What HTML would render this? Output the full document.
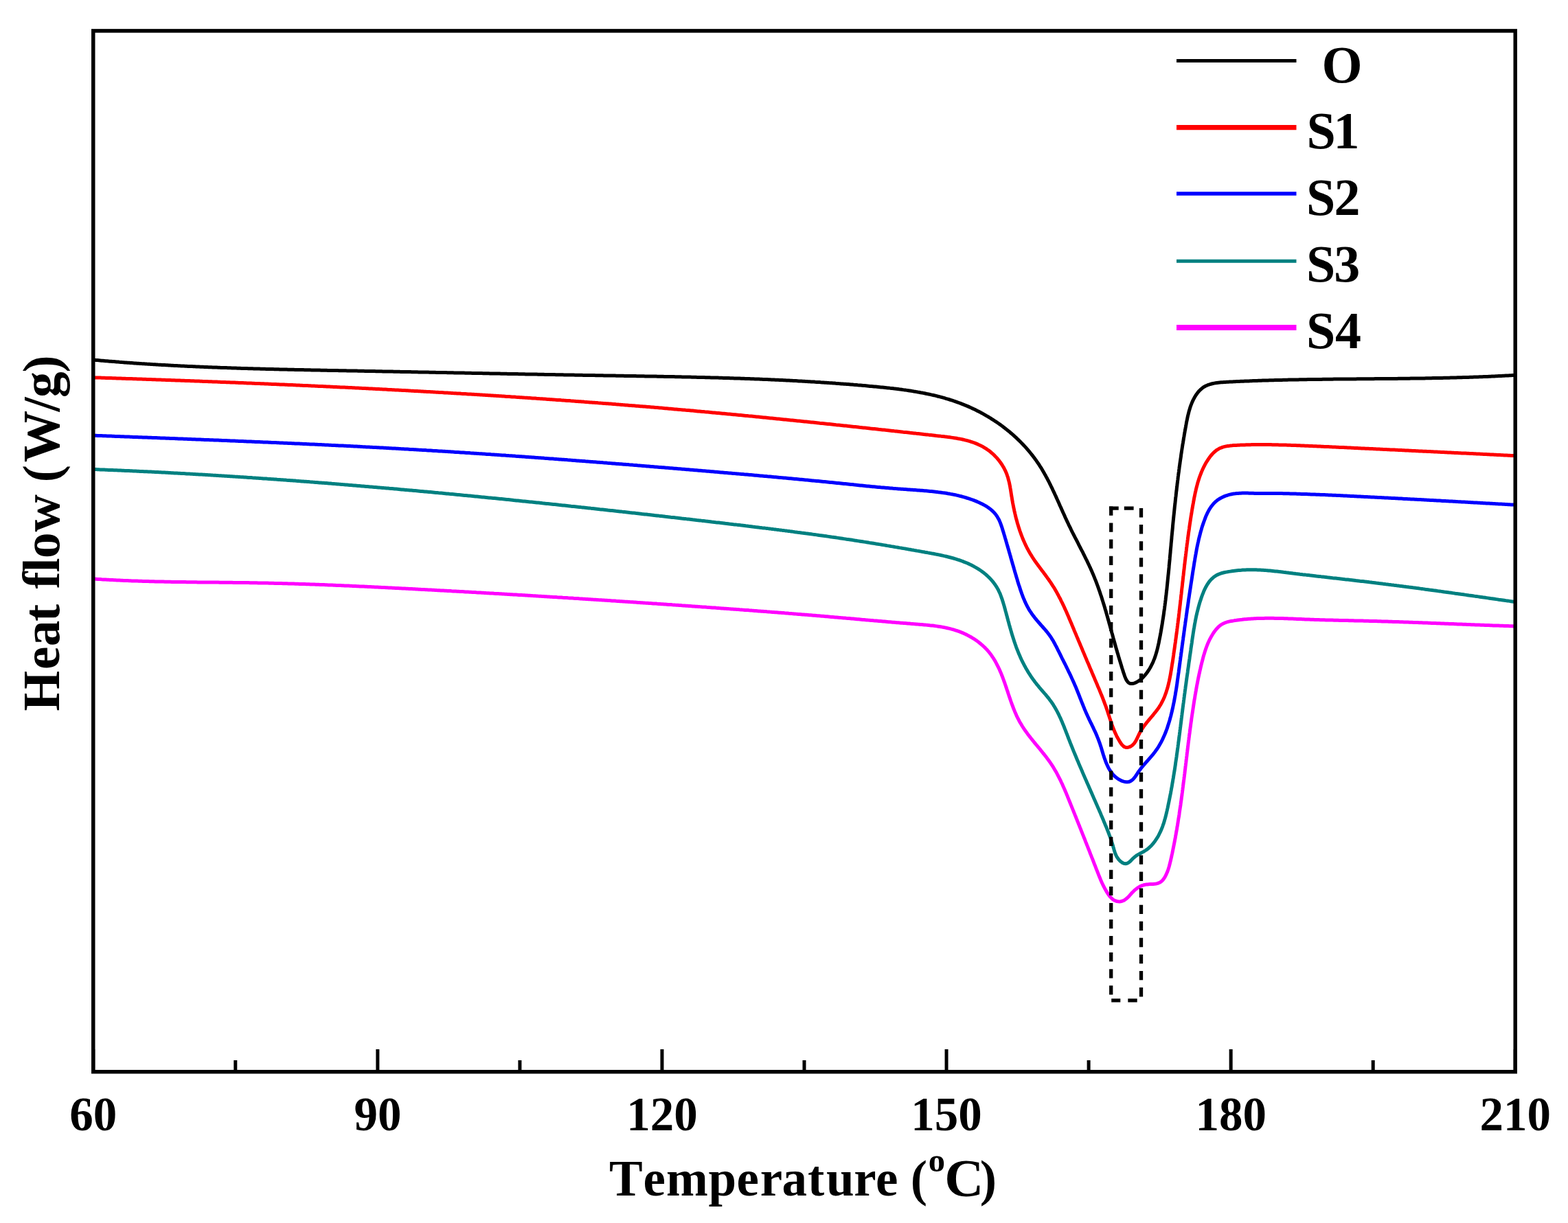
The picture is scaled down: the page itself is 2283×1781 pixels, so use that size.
<!DOCTYPE html>
<html><head><meta charset="utf-8"><title>Heat flow vs Temperature</title><style>html,body{margin:0;padding:0;background:#fff;overflow:hidden;width:2283px;height:1781px;}svg{display:block;} text{font-family:"Liberation Serif","Times New Roman",serif;font-weight:bold;font-kerning:none;font-feature-settings:"kern" 0;}</style></head><body>
<svg width="2283" height="1781" viewBox="0 0 2283 1781">
<rect x="0" y="0" width="2283" height="1781" fill="#ffffff"/>
<path d="M136.0,524.1 L138.0,524.3 L140.0,524.5 L142.0,524.6 L144.0,524.8 L146.0,525.0 L147.9,525.2 L149.9,525.3 L151.9,525.5 L153.9,525.7 L155.9,525.8 L157.9,526.0 L159.9,526.2 L161.9,526.3 L163.9,526.5 L165.9,526.6 L167.9,526.8 L169.9,527.0 L171.9,527.1 L173.9,527.3 L175.9,527.4 L177.9,527.6 L179.9,527.7 L181.9,527.9 L183.9,528.0 L185.9,528.2 L187.9,528.3 L189.9,528.5 L191.9,528.6 L193.8,528.7 L195.8,528.9 L197.8,529.0 L199.8,529.2 L201.8,529.3 L203.8,529.4 L205.8,529.6 L207.8,529.7 L209.8,529.8 L211.8,529.9 L213.8,530.1 L215.8,530.2 L217.8,530.3 L219.8,530.4 L221.8,530.6 L223.8,530.7 L225.8,530.8 L227.8,530.9 L229.8,531.1 L231.8,531.2 L233.8,531.3 L235.8,531.4 L237.8,531.5 L239.8,531.6 L241.8,531.7 L243.8,531.8 L245.8,532.0 L247.7,532.1 L249.7,532.2 L251.7,532.3 L253.7,532.4 L255.7,532.5 L257.7,532.6 L259.7,532.7 L261.7,532.8 L263.7,532.9 L265.7,533.0 L267.7,533.1 L269.7,533.2 L271.7,533.3 L273.7,533.4 L275.7,533.5 L277.7,533.6 L279.7,533.6 L281.7,533.7 L283.7,533.8 L285.7,533.9 L287.7,534.0 L289.7,534.1 L291.7,534.2 L293.7,534.3 L295.7,534.3 L297.7,534.4 L299.7,534.5 L301.7,534.6 L303.7,534.7 L305.7,534.7 L307.7,534.8 L309.7,534.9 L311.6,535.0 L313.6,535.1 L315.6,535.1 L317.6,535.2 L319.6,535.3 L321.6,535.4 L323.6,535.4 L325.6,535.5 L327.6,535.6 L329.6,535.6 L331.6,535.7 L333.6,535.8 L335.6,535.8 L337.6,535.9 L339.6,536.0 L341.6,536.0 L343.6,536.1 L345.6,536.2 L347.6,536.2 L349.6,536.3 L351.6,536.4 L353.6,536.4 L355.6,536.5 L357.6,536.5 L359.6,536.6 L361.6,536.7 L363.6,536.7 L365.6,536.8 L367.6,536.8 L369.6,536.9 L371.6,537.0 L373.6,537.0 L375.6,537.1 L377.6,537.1 L379.6,537.2 L381.6,537.2 L383.6,537.3 L385.6,537.3 L387.6,537.4 L389.6,537.4 L391.6,537.5 L393.6,537.5 L395.6,537.6 L397.5,537.6 L399.5,537.7 L401.5,537.7 L403.5,537.8 L405.5,537.8 L407.5,537.9 L409.5,537.9 L411.5,538.0 L413.5,538.0 L415.5,538.1 L417.5,538.1 L419.5,538.2 L421.5,538.2 L423.5,538.2 L425.5,538.3 L427.5,538.3 L429.5,538.4 L431.5,538.4 L433.5,538.5 L435.5,538.5 L437.5,538.6 L439.5,538.6 L441.5,538.6 L443.5,538.7 L445.5,538.7 L447.5,538.8 L449.5,538.8 L451.5,538.8 L453.5,538.9 L455.5,538.9 L457.5,539.0 L459.5,539.0 L461.5,539.0 L463.5,539.1 L465.5,539.1 L467.5,539.2 L469.5,539.2 L471.5,539.2 L473.5,539.3 L475.5,539.3 L477.5,539.4 L479.5,539.4 L481.5,539.4 L483.5,539.5 L485.5,539.5 L487.5,539.5 L489.5,539.6 L491.5,539.6 L493.5,539.7 L495.5,539.7 L497.5,539.7 L499.5,539.8 L501.5,539.8 L503.5,539.8 L505.5,539.9 L507.5,539.9 L509.5,540.0 L511.5,540.0 L513.5,540.0 L515.5,540.1 L517.5,540.1 L519.5,540.1 L521.5,540.2 L523.5,540.2 L525.5,540.3 L527.5,540.3 L529.5,540.3 L531.5,540.4 L533.5,540.4 L535.5,540.5 L537.5,540.5 L539.5,540.5 L541.5,540.6 L543.5,540.6 L545.5,540.6 L547.5,540.7 L549.5,540.7 L551.5,540.8 L553.5,540.8 L555.5,540.8 L557.5,540.9 L559.5,540.9 L561.5,541.0 L563.5,541.0 L565.5,541.0 L567.5,541.1 L569.5,541.1 L571.5,541.1 L573.5,541.2 L575.5,541.2 L577.5,541.3 L579.5,541.3 L581.5,541.3 L583.5,541.4 L585.5,541.4 L587.5,541.5 L589.5,541.5 L591.5,541.5 L593.5,541.6 L595.5,541.6 L597.5,541.6 L599.5,541.7 L601.5,541.7 L603.5,541.8 L605.5,541.8 L607.5,541.8 L609.5,541.9 L611.5,541.9 L613.5,542.0 L615.5,542.0 L617.5,542.0 L619.5,542.1 L621.5,542.1 L623.5,542.1 L625.5,542.2 L627.5,542.2 L629.5,542.3 L631.5,542.3 L633.5,542.3 L635.5,542.4 L637.5,542.4 L639.5,542.5 L641.5,542.5 L643.5,542.5 L645.5,542.6 L647.5,542.6 L649.5,542.6 L651.5,542.7 L653.5,542.7 L655.5,542.8 L657.5,542.8 L659.5,542.8 L661.5,542.9 L663.5,542.9 L665.5,543.0 L667.5,543.0 L669.5,543.0 L671.5,543.1 L673.5,543.1 L675.5,543.1 L677.5,543.2 L679.5,543.2 L681.5,543.3 L683.5,543.3 L685.5,543.3 L687.5,543.4 L689.5,543.4 L691.5,543.5 L693.5,543.5 L695.5,543.5 L697.5,543.6 L699.5,543.6 L701.5,543.6 L703.5,543.7 L705.5,543.7 L707.5,543.8 L709.5,543.8 L711.5,543.8 L713.5,543.9 L715.5,543.9 L717.5,544.0 L719.5,544.0 L721.5,544.0 L723.4,544.1 L725.4,544.1 L727.4,544.1 L729.4,544.2 L731.4,544.2 L733.4,544.3 L735.4,544.3 L737.4,544.3 L739.4,544.4 L741.4,544.4 L743.4,544.4 L745.4,544.5 L747.4,544.5 L749.4,544.6 L751.4,544.6 L753.4,544.6 L755.4,544.7 L757.4,544.7 L759.4,544.7 L761.4,544.8 L763.4,544.8 L765.4,544.9 L767.4,544.9 L769.4,544.9 L771.4,545.0 L773.4,545.0 L775.4,545.0 L777.4,545.1 L779.4,545.1 L781.4,545.1 L783.4,545.2 L785.4,545.2 L787.4,545.3 L789.4,545.3 L791.4,545.3 L793.4,545.4 L795.4,545.4 L797.4,545.4 L799.4,545.5 L801.4,545.5 L803.4,545.5 L805.4,545.6 L807.4,545.6 L809.4,545.7 L811.4,545.7 L813.4,545.7 L815.4,545.8 L817.4,545.8 L819.4,545.8 L821.4,545.9 L823.4,545.9 L825.4,545.9 L827.4,546.0 L829.4,546.0 L831.4,546.0 L833.4,546.1 L835.4,546.1 L837.4,546.2 L839.4,546.2 L841.4,546.2 L843.4,546.3 L845.4,546.3 L847.4,546.3 L849.4,546.4 L851.4,546.4 L853.4,546.4 L855.4,546.5 L857.4,546.5 L859.4,546.5 L861.4,546.6 L863.4,546.6 L865.4,546.6 L867.4,546.7 L869.4,546.7 L871.4,546.7 L873.4,546.8 L875.4,546.8 L877.4,546.8 L879.4,546.9 L881.4,546.9 L883.4,546.9 L885.4,547.0 L887.4,547.0 L889.4,547.0 L891.4,547.1 L893.4,547.1 L895.4,547.1 L897.4,547.2 L899.4,547.2 L901.4,547.2 L903.4,547.3 L905.4,547.3 L907.4,547.3 L909.4,547.4 L911.4,547.4 L913.4,547.4 L915.4,547.5 L917.4,547.5 L919.4,547.5 L921.4,547.6 L923.4,547.6 L925.3,547.6 L927.3,547.7 L929.3,547.7 L931.3,547.7 L933.3,547.8 L935.3,547.8 L937.3,547.8 L939.3,547.9 L941.3,547.9 L943.3,547.9 L945.3,548.0 L947.3,548.0 L949.3,548.0 L951.3,548.1 L953.3,548.1 L955.3,548.1 L957.3,548.2 L959.3,548.2 L961.3,548.3 L963.3,548.3 L965.3,548.3 L967.3,548.4 L969.3,548.4 L971.3,548.4 L973.3,548.5 L975.3,548.5 L977.3,548.6 L979.3,548.6 L981.3,548.6 L983.3,548.7 L985.3,548.7 L987.3,548.8 L989.3,548.8 L991.3,548.8 L993.3,548.9 L995.3,548.9 L997.3,549.0 L999.3,549.0 L1001.3,549.1 L1003.3,549.1 L1005.2,549.1 L1007.2,549.2 L1009.2,549.2 L1011.2,549.3 L1013.2,549.3 L1015.2,549.4 L1017.2,549.4 L1019.2,549.5 L1021.2,549.5 L1023.2,549.6 L1025.2,549.6 L1027.2,549.7 L1029.2,549.7 L1031.2,549.8 L1033.2,549.8 L1035.2,549.9 L1037.2,549.9 L1039.2,550.0 L1041.2,550.0 L1043.2,550.1 L1045.2,550.1 L1047.2,550.2 L1049.2,550.3 L1051.2,550.3 L1053.2,550.4 L1055.2,550.4 L1057.2,550.5 L1059.2,550.5 L1061.2,550.6 L1063.2,550.7 L1065.2,550.7 L1067.2,550.8 L1069.2,550.9 L1071.2,550.9 L1073.2,551.0 L1075.1,551.1 L1077.1,551.1 L1079.1,551.2 L1081.1,551.3 L1083.1,551.3 L1085.1,551.4 L1087.1,551.5 L1089.1,551.5 L1091.1,551.6 L1093.1,551.7 L1095.1,551.8 L1097.1,551.8 L1099.1,551.9 L1101.1,552.0 L1103.1,552.1 L1105.1,552.1 L1107.1,552.2 L1109.1,552.3 L1111.1,552.4 L1113.1,552.5 L1115.1,552.5 L1117.1,552.6 L1119.1,552.7 L1121.1,552.8 L1123.1,552.9 L1125.1,553.0 L1127.1,553.1 L1129.1,553.2 L1131.1,553.3 L1133.1,553.3 L1135.1,553.4 L1137.1,553.5 L1139.1,553.6 L1141.1,553.7 L1143.1,553.8 L1145.1,553.9 L1147.0,554.0 L1149.0,554.1 L1151.0,554.2 L1153.0,554.3 L1155.0,554.4 L1157.0,554.5 L1159.0,554.6 L1161.0,554.7 L1163.0,554.9 L1165.0,555.0 L1167.0,555.1 L1169.0,555.2 L1171.0,555.3 L1173.0,555.4 L1175.0,555.5 L1177.0,555.7 L1179.0,555.8 L1181.0,555.9 L1183.0,556.0 L1185.0,556.1 L1187.0,556.3 L1189.0,556.4 L1191.0,556.5 L1193.0,556.6 L1195.0,556.8 L1197.0,556.9 L1199.0,557.0 L1201.0,557.2 L1203.0,557.3 L1205.0,557.4 L1207.0,557.6 L1209.0,557.7 L1211.0,557.8 L1213.0,558.0 L1215.0,558.1 L1217.0,558.3 L1219.0,558.4 L1221.0,558.6 L1223.0,558.7 L1225.0,558.9 L1227.0,559.0 L1229.0,559.2 L1231.0,559.3 L1233.0,559.5 L1235.0,559.6 L1237.0,559.8 L1239.0,560.0 L1241.0,560.1 L1243.0,560.3 L1244.9,560.4 L1246.9,560.6 L1248.9,560.8 L1250.9,560.9 L1252.9,561.1 L1254.9,561.3 L1256.9,561.5 L1258.9,561.6 L1260.9,561.8 L1262.9,562.0 L1264.9,562.2 L1266.9,562.4 L1268.9,562.5 L1270.9,562.7 L1272.9,562.9 L1274.9,563.1 L1276.9,563.3 L1278.9,563.5 L1280.9,563.7 L1282.9,563.9 L1284.9,564.1 L1286.9,564.3 L1288.9,564.5 L1290.9,564.7 L1292.9,564.9 L1294.9,565.1 L1296.9,565.4 L1298.9,565.6 L1300.9,565.8 L1302.9,566.1 L1304.9,566.3 L1306.9,566.5 L1308.8,566.8 L1310.8,567.1 L1312.8,567.3 L1314.8,567.6 L1316.8,567.9 L1318.8,568.1 L1320.7,568.4 L1322.7,568.7 L1324.7,569.0 L1326.7,569.3 L1328.6,569.6 L1330.6,570.0 L1332.6,570.3 L1334.5,570.6 L1336.5,571.0 L1338.5,571.3 L1340.4,571.7 L1342.4,572.0 L1344.3,572.4 L1346.3,572.8 L1348.2,573.2 L1350.2,573.6 L1352.1,574.0 L1354.1,574.4 L1356.0,574.9 L1357.9,575.3 L1359.9,575.7 L1361.8,576.2 L1363.7,576.7 L1365.7,577.2 L1367.6,577.7 L1369.5,578.2 L1371.4,578.7 L1373.3,579.2 L1375.2,579.7 L1377.1,580.3 L1379.0,580.8 L1380.9,581.4 L1382.8,582.0 L1384.7,582.6 L1386.6,583.2 L1388.5,583.8 L1390.3,584.5 L1392.2,585.1 L1394.1,585.8 L1395.9,586.5 L1397.8,587.2 L1399.6,587.9 L1401.5,588.6 L1403.3,589.3 L1405.2,590.1 L1407.0,590.8 L1408.9,591.6 L1410.7,592.4 L1412.5,593.2 L1414.3,594.0 L1416.1,594.9 L1417.9,595.7 L1419.7,596.6 L1421.5,597.5 L1423.3,598.4 L1425.1,599.3 L1426.9,600.2 L1428.6,601.2 L1430.4,602.1 L1432.2,603.1 L1433.9,604.1 L1435.6,605.1 L1437.4,606.1 L1439.1,607.1 L1440.8,608.2 L1442.5,609.2 L1444.2,610.3 L1445.9,611.4 L1447.6,612.5 L1449.3,613.6 L1451.0,614.7 L1452.6,615.8 L1454.3,617.0 L1455.9,618.1 L1457.5,619.3 L1459.2,620.5 L1460.8,621.7 L1462.4,622.9 L1464.0,624.2 L1465.5,625.4 L1467.1,626.7 L1468.7,627.9 L1470.2,629.2 L1471.7,630.5 L1473.3,631.8 L1474.8,633.1 L1476.3,634.5 L1477.8,635.8 L1479.2,637.2 L1480.7,638.5 L1482.1,639.9 L1483.6,641.3 L1485.0,642.7 L1486.4,644.1 L1487.8,645.6 L1489.2,647.0 L1490.6,648.5 L1491.9,649.9 L1493.3,651.4 L1494.6,652.9 L1495.9,654.4 L1497.2,655.9 L1498.5,657.4 L1499.8,659.0 L1501.0,660.5 L1502.3,662.1 L1503.5,663.6 L1504.7,665.2 L1505.9,666.8 L1507.1,668.4 L1508.3,670.0 L1509.4,671.7 L1510.5,673.3 L1511.7,674.9 L1512.8,676.6 L1513.8,678.3 L1514.9,679.9 L1516.0,681.6 L1517.0,683.3 L1518.0,685.0 L1519.0,686.7 L1520.0,688.4 L1521.0,690.2 L1522.0,691.9 L1522.9,693.7 L1523.9,695.4 L1524.8,697.2 L1525.7,698.9 L1526.7,700.7 L1527.6,702.5 L1528.5,704.3 L1529.4,706.1 L1530.2,707.8 L1531.1,709.6 L1532.0,711.4 L1532.8,713.3 L1533.7,715.1 L1534.5,716.9 L1535.4,718.7 L1536.2,720.5 L1537.1,722.3 L1537.9,724.2 L1538.7,726.0 L1539.5,727.8 L1540.4,729.7 L1541.2,731.5 L1542.0,733.3 L1542.8,735.2 L1543.6,737.0 L1544.5,738.8 L1545.3,740.7 L1546.1,742.5 L1546.9,744.3 L1547.7,746.2 L1548.6,748.0 L1549.4,749.8 L1550.2,751.6 L1551.0,753.5 L1551.9,755.3 L1552.7,757.1 L1553.6,758.9 L1554.4,760.7 L1555.3,762.5 L1556.1,764.3 L1557.0,766.1 L1557.9,767.9 L1558.8,769.7 L1559.6,771.5 L1560.5,773.3 L1561.4,775.1 L1562.3,776.8 L1563.2,778.6 L1564.1,780.4 L1565.0,782.2 L1565.9,783.9 L1566.9,785.7 L1567.8,787.5 L1568.7,789.2 L1569.6,791.0 L1570.5,792.8 L1571.4,794.6 L1572.3,796.3 L1573.2,798.1 L1574.1,799.9 L1575.0,801.6 L1576.0,803.4 L1576.9,805.2 L1577.7,806.9 L1578.6,808.7 L1579.5,810.5 L1580.4,812.3 L1581.3,814.1 L1582.2,815.8 L1583.0,817.6 L1583.9,819.4 L1584.7,821.2 L1585.6,823.0 L1586.4,824.8 L1587.3,826.6 L1588.1,828.4 L1588.9,830.3 L1589.7,832.1 L1590.5,833.9 L1591.3,835.7 L1592.1,837.6 L1592.8,839.4 L1593.6,841.3 L1594.3,843.1 L1595.1,845.0 L1595.8,846.9 L1596.5,848.7 L1597.2,850.6 L1597.9,852.5 L1598.6,854.4 L1599.3,856.3 L1599.9,858.2 L1600.6,860.1 L1601.3,862.0 L1601.9,863.9 L1602.5,865.8 L1603.2,867.7 L1603.8,869.6 L1604.4,871.5 L1605.0,873.4 L1605.6,875.4 L1606.2,877.3 L1606.8,879.2 L1607.4,881.1 L1608.0,883.1 L1608.6,885.0 L1609.1,886.9 L1609.7,888.8 L1610.3,890.8 L1610.8,892.7 L1611.4,894.6 L1611.9,896.5 L1612.5,898.5 L1613.0,900.4 L1613.5,902.3 L1614.1,904.2 L1614.6,906.1 L1615.1,908.1 L1615.7,910.0 L1616.2,911.9 L1616.7,913.8 L1617.3,915.7 L1617.8,917.6 L1618.3,919.5 L1618.8,921.4 L1619.4,923.3 L1619.9,925.2 L1620.4,927.1 L1620.9,929.0 L1621.5,930.9 L1622.0,932.8 L1622.5,934.7 L1623.0,936.6 L1623.6,938.5 L1624.1,940.3 L1624.6,942.3 L1625.2,944.2 L1625.7,946.1 L1626.3,948.0 L1626.8,949.9 L1627.4,951.8 L1628.0,953.8 L1628.5,955.7 L1629.1,957.6 L1629.7,959.6 L1630.3,961.6 L1630.9,963.5 L1631.5,965.5 L1632.1,967.5 L1632.7,969.5 L1633.3,971.5 L1633.9,973.5 L1634.6,975.5 L1635.2,977.6 L1635.9,979.7 L1636.6,981.7 L1637.3,983.8 L1638.0,985.7 L1638.8,987.6 L1639.6,989.4 L1640.5,991.0 L1641.5,992.4 L1642.6,993.7 L1643.9,994.6 L1645.2,995.3 L1646.7,995.6 L1648.3,995.6 L1650.0,995.3 L1651.8,994.8 L1653.5,994.1 L1655.3,993.2 L1657.0,992.2 L1658.7,991.1 L1660.3,989.9 L1661.9,988.6 L1663.4,987.2 L1664.9,985.7 L1666.3,984.1 L1667.7,982.5 L1669.0,980.9 L1670.2,979.2 L1671.4,977.5 L1672.6,975.8 L1673.7,974.0 L1674.7,972.3 L1675.7,970.5 L1676.6,968.7 L1677.5,966.9 L1678.4,965.1 L1679.2,963.2 L1679.9,961.4 L1680.7,959.5 L1681.4,957.7 L1682.0,955.8 L1682.6,953.9 L1683.2,952.0 L1683.8,950.1 L1684.3,948.2 L1684.8,946.3 L1685.3,944.3 L1685.8,942.4 L1686.2,940.5 L1686.6,938.5 L1687.1,936.6 L1687.5,934.6 L1687.8,932.7 L1688.2,930.7 L1688.6,928.8 L1689.0,926.8 L1689.4,924.8 L1689.7,922.9 L1690.1,920.9 L1690.4,919.0 L1690.8,917.0 L1691.1,915.0 L1691.4,913.1 L1691.8,911.1 L1692.1,909.1 L1692.4,907.2 L1692.7,905.2 L1693.0,903.2 L1693.3,901.3 L1693.6,899.3 L1693.9,897.3 L1694.2,895.4 L1694.5,893.4 L1694.7,891.4 L1695.0,889.4 L1695.3,887.5 L1695.6,885.5 L1695.8,883.5 L1696.1,881.5 L1696.3,879.5 L1696.6,877.6 L1696.8,875.6 L1697.1,873.6 L1697.3,871.6 L1697.5,869.6 L1697.8,867.7 L1698.0,865.7 L1698.2,863.7 L1698.4,861.7 L1698.7,859.7 L1698.9,857.7 L1699.1,855.7 L1699.3,853.8 L1699.5,851.8 L1699.7,849.8 L1699.9,847.8 L1700.1,845.8 L1700.3,843.8 L1700.5,841.8 L1700.7,839.8 L1700.9,837.8 L1701.1,835.9 L1701.3,833.9 L1701.5,831.9 L1701.7,829.9 L1701.9,827.9 L1702.1,825.9 L1702.2,823.9 L1702.4,821.9 L1702.6,819.9 L1702.8,817.9 L1703.0,815.9 L1703.2,813.9 L1703.3,811.9 L1703.5,809.9 L1703.7,808.0 L1703.9,806.0 L1704.1,804.0 L1704.2,802.0 L1704.4,800.0 L1704.6,798.0 L1704.8,796.0 L1705.0,794.0 L1705.1,792.0 L1705.3,790.0 L1705.5,788.0 L1705.7,786.0 L1705.9,784.0 L1706.0,782.0 L1706.2,780.0 L1706.4,778.0 L1706.6,776.1 L1706.8,774.1 L1707.0,772.1 L1707.2,770.1 L1707.4,768.1 L1707.5,766.1 L1707.7,764.1 L1707.9,762.1 L1708.1,760.1 L1708.3,758.1 L1708.5,756.1 L1708.7,754.1 L1708.9,752.1 L1709.1,750.1 L1709.3,748.2 L1709.5,746.2 L1709.7,744.2 L1709.9,742.2 L1710.1,740.2 L1710.3,738.2 L1710.5,736.2 L1710.8,734.2 L1711.0,732.2 L1711.2,730.3 L1711.4,728.3 L1711.6,726.3 L1711.8,724.3 L1712.1,722.3 L1712.3,720.3 L1712.5,718.3 L1712.7,716.3 L1713.0,714.4 L1713.2,712.4 L1713.4,710.4 L1713.7,708.4 L1713.9,706.4 L1714.1,704.4 L1714.4,702.5 L1714.6,700.5 L1714.9,698.5 L1715.1,696.5 L1715.3,694.5 L1715.6,692.5 L1715.8,690.6 L1716.1,688.6 L1716.4,686.6 L1716.6,684.6 L1716.9,682.6 L1717.1,680.7 L1717.4,678.7 L1717.7,676.7 L1718.0,674.7 L1718.2,672.8 L1718.5,670.8 L1718.8,668.8 L1719.1,666.8 L1719.4,664.9 L1719.6,662.9 L1719.9,660.9 L1720.2,659.0 L1720.5,657.0 L1720.8,655.0 L1721.1,653.1 L1721.4,651.1 L1721.7,649.1 L1722.0,647.1 L1722.4,645.2 L1722.7,643.2 L1723.0,641.3 L1723.3,639.3 L1723.6,637.3 L1724.0,635.4 L1724.3,633.4 L1724.6,631.4 L1725.0,629.5 L1725.3,627.5 L1725.7,625.6 L1726.0,623.6 L1726.4,621.7 L1726.7,619.7 L1727.1,617.7 L1727.4,615.8 L1727.8,613.8 L1728.2,611.9 L1728.6,609.9 L1729.0,608.0 L1729.4,606.0 L1729.9,604.1 L1730.4,602.1 L1730.9,600.2 L1731.4,598.2 L1732.0,596.3 L1732.6,594.3 L1733.2,592.3 L1733.9,590.4 L1734.7,588.4 L1735.4,586.5 L1736.3,584.6 L1737.1,582.7 L1738.1,580.9 L1739.1,579.0 L1740.1,577.3 L1741.2,575.5 L1742.3,573.9 L1743.5,572.3 L1744.7,570.7 L1746.0,569.3 L1747.4,567.9 L1748.8,566.6 L1750.3,565.3 L1751.8,564.2 L1753.4,563.2 L1755.0,562.3 L1756.7,561.5 L1758.5,560.7 L1760.3,560.1 L1762.1,559.5 L1764.0,559.0 L1765.9,558.5 L1767.9,558.1 L1769.9,557.8 L1771.9,557.5 L1773.9,557.2 L1775.9,557.0 L1777.9,556.8 L1780.0,556.7 L1782.1,556.5 L1784.1,556.4 L1786.2,556.3 L1788.2,556.2 L1790.3,556.1 L1792.3,556.0 L1794.3,555.9 L1796.3,555.8 L1798.4,555.7 L1800.4,555.6 L1802.4,555.5 L1804.4,555.4 L1806.4,555.3 L1808.4,555.3 L1810.4,555.2 L1812.4,555.1 L1814.3,555.0 L1816.3,554.9 L1818.3,554.9 L1820.3,554.8 L1822.3,554.7 L1824.3,554.6 L1826.3,554.6 L1828.3,554.5 L1830.3,554.4 L1832.3,554.3 L1834.3,554.3 L1836.3,554.2 L1838.3,554.1 L1840.3,554.1 L1842.3,554.0 L1844.2,554.0 L1846.2,553.9 L1848.2,553.8 L1850.2,553.8 L1852.2,553.7 L1854.2,553.7 L1856.2,553.6 L1858.2,553.6 L1860.2,553.5 L1862.2,553.5 L1864.2,553.4 L1866.2,553.4 L1868.2,553.3 L1870.2,553.3 L1872.2,553.2 L1874.2,553.2 L1876.2,553.1 L1878.2,553.1 L1880.2,553.1 L1882.2,553.0 L1884.2,553.0 L1886.2,552.9 L1888.2,552.9 L1890.2,552.9 L1892.1,552.8 L1894.1,552.8 L1896.1,552.8 L1898.1,552.7 L1900.1,552.7 L1902.1,552.7 L1904.1,552.6 L1906.1,552.6 L1908.1,552.6 L1910.1,552.5 L1912.1,552.5 L1914.1,552.5 L1916.1,552.5 L1918.1,552.4 L1920.1,552.4 L1922.1,552.4 L1924.1,552.4 L1926.1,552.3 L1928.1,552.3 L1930.1,552.3 L1932.1,552.3 L1934.1,552.2 L1936.1,552.2 L1938.1,552.2 L1940.1,552.2 L1942.1,552.1 L1944.1,552.1 L1946.1,552.1 L1948.1,552.1 L1950.1,552.1 L1952.1,552.1 L1954.1,552.0 L1956.1,552.0 L1958.1,552.0 L1960.1,552.0 L1962.1,552.0 L1964.1,551.9 L1966.1,551.9 L1968.1,551.9 L1970.1,551.9 L1972.1,551.9 L1974.1,551.9 L1976.1,551.8 L1978.1,551.8 L1980.1,551.8 L1982.1,551.8 L1984.1,551.8 L1986.1,551.8 L1988.1,551.8 L1990.1,551.7 L1992.1,551.7 L1994.1,551.7 L1996.1,551.7 L1998.1,551.7 L2000.1,551.7 L2002.1,551.6 L2004.1,551.6 L2006.1,551.6 L2008.1,551.6 L2010.1,551.6 L2012.1,551.6 L2014.1,551.5 L2016.1,551.5 L2018.1,551.5 L2020.1,551.5 L2022.1,551.5 L2024.1,551.5 L2026.1,551.4 L2028.1,551.4 L2030.1,551.4 L2032.1,551.4 L2034.1,551.4 L2036.1,551.3 L2038.1,551.3 L2040.1,551.3 L2042.1,551.3 L2044.1,551.3 L2046.1,551.2 L2048.1,551.2 L2050.1,551.2 L2052.1,551.2 L2054.1,551.1 L2056.1,551.1 L2058.1,551.1 L2060.1,551.1 L2062.1,551.0 L2064.1,551.0 L2066.1,551.0 L2068.1,550.9 L2070.1,550.9 L2072.1,550.9 L2074.1,550.9 L2076.1,550.8 L2078.1,550.8 L2080.1,550.8 L2082.1,550.7 L2084.1,550.7 L2086.1,550.6 L2088.1,550.6 L2090.1,550.6 L2092.1,550.5 L2094.1,550.5 L2096.1,550.5 L2098.1,550.4 L2100.1,550.4 L2102.1,550.3 L2104.1,550.3 L2106.1,550.2 L2108.1,550.2 L2110.1,550.2 L2112.1,550.1 L2114.1,550.1 L2116.1,550.0 L2118.1,550.0 L2120.1,549.9 L2122.1,549.8 L2124.1,549.8 L2126.1,549.7 L2128.1,549.7 L2130.1,549.6 L2132.1,549.6 L2134.1,549.5 L2136.1,549.4 L2138.1,549.4 L2140.1,549.3 L2142.1,549.2 L2144.1,549.2 L2146.1,549.1 L2148.1,549.0 L2150.1,549.0 L2152.1,548.9 L2154.1,548.8 L2156.1,548.8 L2158.1,548.7 L2160.1,548.6 L2162.1,548.5 L2164.0,548.4 L2166.0,548.4 L2168.0,548.3 L2170.0,548.2 L2172.0,548.1 L2174.0,548.0 L2176.0,547.9 L2178.0,547.8 L2180.0,547.7 L2182.0,547.6 L2184.0,547.5 L2186.0,547.4 L2188.0,547.3 L2190.0,547.2 L2192.0,547.1 L2194.0,547.0 L2196.0,546.9 L2198.0,546.8 L2200.0,546.7 L2202.0,546.6 L2204.0,546.5 L2206.0,546.4" fill="none" stroke="#000000" stroke-width="5" stroke-linejoin="round" stroke-linecap="butt"/>
<path d="M136.1,549.8 L138.1,549.9 L140.1,549.9 L142.1,550.0 L144.1,550.1 L146.1,550.1 L148.1,550.2 L150.1,550.3 L152.1,550.3 L154.1,550.4 L156.1,550.5 L158.0,550.5 L160.0,550.6 L162.0,550.6 L164.0,550.7 L166.0,550.8 L168.0,550.8 L170.0,550.9 L172.0,551.0 L174.0,551.0 L176.0,551.1 L178.0,551.2 L180.0,551.2 L182.0,551.3 L184.0,551.4 L186.0,551.4 L188.0,551.5 L190.0,551.6 L192.0,551.6 L194.0,551.7 L196.0,551.8 L198.0,551.8 L200.0,551.9 L202.0,552.0 L204.0,552.1 L206.0,552.1 L208.0,552.2 L210.0,552.3 L212.0,552.3 L213.9,552.4 L215.9,552.5 L217.9,552.5 L219.9,552.6 L221.9,552.7 L223.9,552.7 L225.9,552.8 L227.9,552.9 L229.9,553.0 L231.9,553.0 L233.9,553.1 L235.9,553.2 L237.9,553.2 L239.9,553.3 L241.9,553.4 L243.9,553.5 L245.9,553.5 L247.9,553.6 L249.9,553.7 L251.9,553.7 L253.9,553.8 L255.9,553.9 L257.9,554.0 L259.9,554.0 L261.9,554.1 L263.9,554.2 L265.9,554.2 L267.9,554.3 L269.9,554.4 L271.9,554.5 L273.9,554.5 L275.9,554.6 L277.9,554.7 L279.9,554.8 L281.9,554.8 L283.9,554.9 L285.9,555.0 L287.8,555.1 L289.8,555.1 L291.8,555.2 L293.8,555.3 L295.8,555.4 L297.8,555.4 L299.8,555.5 L301.8,555.6 L303.8,555.7 L305.8,555.7 L307.8,555.8 L309.8,555.9 L311.8,556.0 L313.8,556.0 L315.8,556.1 L317.8,556.2 L319.8,556.3 L321.8,556.4 L323.8,556.4 L325.8,556.5 L327.8,556.6 L329.8,556.7 L331.8,556.7 L333.8,556.8 L335.8,556.9 L337.8,557.0 L339.8,557.1 L341.8,557.1 L343.8,557.2 L345.8,557.3 L347.8,557.4 L349.8,557.5 L351.8,557.5 L353.8,557.6 L355.8,557.7 L357.8,557.8 L359.8,557.9 L361.8,557.9 L363.8,558.0 L365.8,558.1 L367.8,558.2 L369.8,558.3 L371.8,558.4 L373.8,558.4 L375.8,558.5 L377.8,558.6 L379.8,558.7 L381.8,558.8 L383.8,558.8 L385.8,558.9 L387.8,559.0 L389.8,559.1 L391.8,559.2 L393.8,559.3 L395.8,559.4 L397.8,559.4 L399.7,559.5 L401.7,559.6 L403.7,559.7 L405.7,559.8 L407.7,559.9 L409.7,560.0 L411.7,560.0 L413.7,560.1 L415.7,560.2 L417.7,560.3 L419.7,560.4 L421.7,560.5 L423.7,560.6 L425.7,560.6 L427.7,560.7 L429.7,560.8 L431.7,560.9 L433.7,561.0 L435.7,561.1 L437.7,561.2 L439.7,561.3 L441.7,561.4 L443.7,561.4 L445.7,561.5 L447.7,561.6 L449.7,561.7 L451.7,561.8 L453.7,561.9 L455.7,562.0 L457.7,562.1 L459.7,562.2 L461.7,562.3 L463.7,562.4 L465.7,562.4 L467.7,562.5 L469.7,562.6 L471.7,562.7 L473.7,562.8 L475.7,562.9 L477.7,563.0 L479.7,563.1 L481.7,563.2 L483.7,563.3 L485.7,563.4 L487.7,563.5 L489.7,563.6 L491.7,563.7 L493.7,563.8 L495.7,563.9 L497.7,564.0 L499.7,564.0 L501.7,564.1 L503.7,564.2 L505.7,564.3 L507.7,564.4 L509.7,564.5 L511.7,564.6 L513.7,564.7 L515.7,564.8 L517.7,564.9 L519.7,565.0 L521.7,565.1 L523.7,565.2 L525.7,565.3 L527.7,565.4 L529.7,565.5 L531.7,565.6 L533.7,565.7 L535.7,565.8 L537.6,565.9 L539.6,566.0 L541.6,566.1 L543.6,566.2 L545.6,566.3 L547.6,566.4 L549.6,566.5 L551.6,566.6 L553.6,566.7 L555.6,566.8 L557.6,566.9 L559.6,567.0 L561.6,567.1 L563.6,567.2 L565.6,567.4 L567.6,567.5 L569.6,567.6 L571.6,567.7 L573.6,567.8 L575.6,567.9 L577.6,568.0 L579.6,568.1 L581.6,568.2 L583.6,568.3 L585.6,568.4 L587.6,568.5 L589.6,568.6 L591.6,568.7 L593.6,568.8 L595.6,568.9 L597.6,569.1 L599.6,569.2 L601.6,569.3 L603.6,569.4 L605.6,569.5 L607.6,569.6 L609.6,569.7 L611.6,569.8 L613.6,569.9 L615.6,570.0 L617.6,570.2 L619.6,570.3 L621.6,570.4 L623.6,570.5 L625.6,570.6 L627.6,570.7 L629.6,570.8 L631.6,570.9 L633.6,571.1 L635.6,571.2 L637.6,571.3 L639.5,571.4 L641.5,571.5 L643.5,571.6 L645.5,571.7 L647.5,571.9 L649.5,572.0 L651.5,572.1 L653.5,572.2 L655.5,572.3 L657.5,572.4 L659.5,572.6 L661.5,572.7 L663.5,572.8 L665.5,572.9 L667.5,573.0 L669.5,573.1 L671.5,573.3 L673.5,573.4 L675.5,573.5 L677.5,573.6 L679.5,573.7 L681.5,573.9 L683.5,574.0 L685.5,574.1 L687.5,574.2 L689.5,574.3 L691.5,574.5 L693.5,574.6 L695.5,574.7 L697.5,574.8 L699.5,575.0 L701.5,575.1 L703.5,575.2 L705.5,575.3 L707.5,575.5 L709.4,575.6 L711.4,575.7 L713.4,575.8 L715.4,576.0 L717.4,576.1 L719.4,576.2 L721.4,576.3 L723.4,576.5 L725.4,576.6 L727.4,576.7 L729.4,576.8 L731.4,577.0 L733.4,577.1 L735.4,577.2 L737.4,577.4 L739.4,577.5 L741.4,577.6 L743.4,577.7 L745.4,577.9 L747.4,578.0 L749.4,578.1 L751.4,578.3 L753.4,578.4 L755.4,578.5 L757.4,578.7 L759.4,578.8 L761.3,578.9 L763.3,579.1 L765.3,579.2 L767.3,579.3 L769.3,579.5 L771.3,579.6 L773.3,579.7 L775.3,579.9 L777.3,580.0 L779.3,580.1 L781.3,580.3 L783.3,580.4 L785.3,580.6 L787.3,580.7 L789.3,580.8 L791.3,581.0 L793.3,581.1 L795.3,581.2 L797.3,581.4 L799.3,581.5 L801.3,581.7 L803.2,581.8 L805.2,581.9 L807.2,582.1 L809.2,582.2 L811.2,582.4 L813.2,582.5 L815.2,582.6 L817.2,582.8 L819.2,582.9 L821.2,583.1 L823.2,583.2 L825.2,583.4 L827.2,583.5 L829.2,583.6 L831.2,583.8 L833.2,583.9 L835.2,584.1 L837.2,584.2 L839.2,584.4 L841.1,584.5 L843.1,584.7 L845.1,584.8 L847.1,585.0 L849.1,585.1 L851.1,585.3 L853.1,585.4 L855.1,585.6 L857.1,585.7 L859.1,585.9 L861.1,586.0 L863.1,586.2 L865.1,586.3 L867.1,586.5 L869.1,586.6 L871.1,586.8 L873.0,586.9 L875.0,587.1 L877.0,587.2 L879.0,587.4 L881.0,587.5 L883.0,587.7 L885.0,587.8 L887.0,588.0 L889.0,588.1 L891.0,588.3 L893.0,588.5 L895.0,588.6 L897.0,588.8 L899.0,588.9 L900.9,589.1 L902.9,589.2 L904.9,589.4 L906.9,589.6 L908.9,589.7 L910.9,589.9 L912.9,590.0 L914.9,590.2 L916.9,590.4 L918.9,590.5 L920.9,590.7 L922.9,590.8 L924.9,591.0 L926.8,591.2 L928.8,591.3 L930.8,591.5 L932.8,591.7 L934.8,591.8 L936.8,592.0 L938.8,592.1 L940.8,592.3 L942.8,592.5 L944.8,592.6 L946.8,592.8 L948.7,593.0 L950.7,593.1 L952.7,593.3 L954.7,593.5 L956.7,593.6 L958.7,593.8 L960.7,594.0 L962.7,594.1 L964.7,594.3 L966.7,594.5 L968.7,594.7 L970.6,594.8 L972.6,595.0 L974.6,595.2 L976.6,595.3 L978.6,595.5 L980.6,595.7 L982.6,595.9 L984.6,596.0 L986.6,596.2 L988.6,596.4 L990.5,596.6 L992.5,596.7 L994.5,596.9 L996.5,597.1 L998.5,597.3 L1000.5,597.4 L1002.5,597.6 L1004.5,597.8 L1006.5,598.0 L1008.5,598.1 L1010.4,598.3 L1012.4,598.5 L1014.4,598.7 L1016.4,598.9 L1018.4,599.0 L1020.4,599.2 L1022.4,599.4 L1024.4,599.6 L1026.4,599.8 L1028.3,599.9 L1030.3,600.1 L1032.3,600.3 L1034.3,600.5 L1036.3,600.7 L1038.3,600.9 L1040.3,601.0 L1042.3,601.2 L1044.3,601.4 L1046.3,601.6 L1048.2,601.8 L1050.2,602.0 L1052.2,602.2 L1054.2,602.3 L1056.2,602.5 L1058.2,602.7 L1060.2,602.9 L1062.2,603.1 L1064.2,603.3 L1066.1,603.5 L1068.1,603.7 L1070.1,603.8 L1072.1,604.0 L1074.1,604.2 L1076.1,604.4 L1078.1,604.6 L1080.1,604.8 L1082.0,605.0 L1084.0,605.2 L1086.0,605.4 L1088.0,605.6 L1090.0,605.8 L1092.0,605.9 L1094.0,606.1 L1096.0,606.3 L1098.0,606.5 L1099.9,606.7 L1101.9,606.9 L1103.9,607.1 L1105.9,607.3 L1107.9,607.5 L1109.9,607.7 L1111.9,607.9 L1113.9,608.1 L1115.9,608.3 L1117.9,608.5 L1119.8,608.7 L1121.8,608.9 L1123.8,609.1 L1125.8,609.3 L1127.8,609.5 L1129.8,609.7 L1131.8,609.9 L1133.8,610.1 L1135.8,610.3 L1137.7,610.5 L1139.7,610.7 L1141.7,610.9 L1143.7,611.1 L1145.7,611.3 L1147.7,611.5 L1149.7,611.7 L1151.7,611.9 L1153.7,612.1 L1155.7,612.3 L1157.6,612.5 L1159.6,612.7 L1161.6,612.9 L1163.6,613.1 L1165.6,613.3 L1167.6,613.5 L1169.6,613.7 L1171.6,613.9 L1173.6,614.1 L1175.6,614.3 L1177.5,614.5 L1179.5,614.7 L1181.5,614.9 L1183.5,615.1 L1185.5,615.3 L1187.5,615.5 L1189.5,615.7 L1191.5,615.9 L1193.5,616.2 L1195.5,616.4 L1197.5,616.6 L1199.4,616.8 L1201.4,617.0 L1203.4,617.2 L1205.4,617.4 L1207.4,617.6 L1209.4,617.8 L1211.4,618.0 L1213.4,618.2 L1215.4,618.4 L1217.4,618.7 L1219.4,618.9 L1221.4,619.1 L1223.3,619.3 L1225.3,619.5 L1227.3,619.7 L1229.3,619.9 L1231.3,620.1 L1233.3,620.3 L1235.3,620.6 L1237.3,620.8 L1239.3,621.0 L1241.3,621.2 L1243.3,621.4 L1245.3,621.6 L1247.3,621.8 L1249.3,622.0 L1251.3,622.3 L1253.2,622.5 L1255.2,622.7 L1257.2,622.9 L1259.2,623.1 L1261.2,623.3 L1263.2,623.5 L1265.2,623.7 L1267.2,624.0 L1269.2,624.2 L1271.2,624.4 L1273.2,624.6 L1275.2,624.8 L1277.2,625.0 L1279.2,625.3 L1281.2,625.5 L1283.2,625.7 L1285.2,625.9 L1287.2,626.1 L1289.2,626.3 L1291.2,626.6 L1293.2,626.8 L1295.2,627.0 L1297.2,627.2 L1299.1,627.4 L1301.1,627.6 L1303.1,627.9 L1305.1,628.1 L1307.1,628.3 L1309.1,628.5 L1311.1,628.7 L1313.1,628.9 L1315.1,629.2 L1317.1,629.4 L1319.1,629.6 L1321.1,629.8 L1323.1,630.0 L1325.1,630.3 L1327.1,630.5 L1329.1,630.7 L1331.1,630.9 L1333.1,631.1 L1335.1,631.4 L1337.1,631.6 L1339.1,631.8 L1341.1,632.0 L1343.1,632.2 L1345.1,632.5 L1347.1,632.7 L1349.1,632.9 L1351.1,633.1 L1353.1,633.4 L1355.1,633.6 L1357.1,633.8 L1359.1,634.0 L1361.1,634.2 L1363.1,634.5 L1365.1,634.7 L1367.1,634.9 L1369.1,635.1 L1371.1,635.4 L1373.1,635.6 L1375.1,635.8 L1377.1,636.1 L1379.1,636.3 L1381.1,636.6 L1383.1,636.8 L1385.1,637.1 L1387.1,637.4 L1389.0,637.7 L1391.0,638.0 L1393.0,638.3 L1394.9,638.7 L1396.9,639.0 L1398.8,639.4 L1400.7,639.8 L1402.6,640.2 L1404.5,640.7 L1406.4,641.1 L1408.3,641.6 L1410.2,642.2 L1412.0,642.7 L1413.9,643.3 L1415.7,643.9 L1417.5,644.5 L1419.3,645.2 L1421.1,645.9 L1422.9,646.6 L1424.6,647.4 L1426.4,648.2 L1428.1,649.0 L1429.8,649.9 L1431.5,650.8 L1433.2,651.8 L1434.8,652.8 L1436.4,653.9 L1438.0,655.0 L1439.6,656.1 L1441.2,657.3 L1442.7,658.5 L1444.2,659.8 L1445.7,661.1 L1447.2,662.5 L1448.6,664.0 L1450.0,665.4 L1451.4,666.9 L1452.8,668.5 L1454.1,670.1 L1455.3,671.7 L1456.5,673.3 L1457.7,675.0 L1458.9,676.7 L1459.9,678.4 L1461.0,680.2 L1462.0,682.0 L1462.9,683.8 L1463.8,685.6 L1464.6,687.4 L1465.4,689.3 L1466.1,691.2 L1466.7,693.1 L1467.4,694.9 L1467.9,696.9 L1468.4,698.8 L1468.9,700.7 L1469.4,702.6 L1469.8,704.6 L1470.2,706.5 L1470.6,708.5 L1470.9,710.4 L1471.3,712.4 L1471.6,714.4 L1471.9,716.4 L1472.2,718.4 L1472.5,720.3 L1472.8,722.3 L1473.2,724.3 L1473.5,726.3 L1473.8,728.3 L1474.2,730.3 L1474.5,732.2 L1474.9,734.2 L1475.3,736.2 L1475.7,738.2 L1476.1,740.2 L1476.5,742.1 L1476.9,744.1 L1477.4,746.1 L1477.8,748.0 L1478.3,750.0 L1478.7,751.9 L1479.2,753.9 L1479.7,755.8 L1480.3,757.8 L1480.8,759.7 L1481.3,761.7 L1481.9,763.6 L1482.5,765.5 L1483.1,767.4 L1483.7,769.3 L1484.3,771.2 L1484.9,773.1 L1485.6,775.0 L1486.3,776.9 L1487.0,778.8 L1487.7,780.6 L1488.4,782.5 L1489.1,784.3 L1489.9,786.2 L1490.7,788.0 L1491.5,789.8 L1492.3,791.6 L1493.2,793.4 L1494.0,795.2 L1494.9,797.0 L1495.8,798.8 L1496.8,800.5 L1497.7,802.3 L1498.7,804.0 L1499.7,805.7 L1500.7,807.4 L1501.8,809.1 L1502.8,810.8 L1503.9,812.5 L1505.0,814.2 L1506.1,815.8 L1507.3,817.5 L1508.4,819.1 L1509.6,820.7 L1510.8,822.3 L1512.0,824.0 L1513.2,825.6 L1514.4,827.2 L1515.6,828.8 L1516.8,830.4 L1518.0,832.0 L1519.2,833.6 L1520.4,835.2 L1521.6,836.8 L1522.8,838.5 L1524.0,840.1 L1525.1,841.7 L1526.3,843.3 L1527.5,845.0 L1528.6,846.6 L1529.7,848.2 L1530.8,849.9 L1531.9,851.6 L1533.0,853.3 L1534.1,854.9 L1535.1,856.6 L1536.1,858.3 L1537.1,860.1 L1538.1,861.8 L1539.1,863.5 L1540.0,865.3 L1541.0,867.0 L1541.9,868.8 L1542.8,870.5 L1543.8,872.3 L1544.6,874.1 L1545.5,875.9 L1546.4,877.6 L1547.3,879.4 L1548.1,881.2 L1549.0,883.0 L1549.8,884.8 L1550.6,886.7 L1551.5,888.5 L1552.3,890.3 L1553.1,892.1 L1553.9,893.9 L1554.7,895.8 L1555.5,897.6 L1556.3,899.4 L1557.0,901.3 L1557.8,903.1 L1558.6,905.0 L1559.4,906.8 L1560.2,908.6 L1560.9,910.5 L1561.7,912.3 L1562.5,914.2 L1563.3,916.0 L1564.0,917.9 L1564.8,919.7 L1565.6,921.6 L1566.4,923.4 L1567.1,925.2 L1567.9,927.1 L1568.7,928.9 L1569.5,930.8 L1570.2,932.6 L1571.0,934.5 L1571.8,936.3 L1572.6,938.2 L1573.3,940.0 L1574.1,941.8 L1574.9,943.7 L1575.7,945.5 L1576.4,947.4 L1577.2,949.2 L1578.0,951.1 L1578.8,952.9 L1579.5,954.7 L1580.3,956.6 L1581.1,958.4 L1581.9,960.3 L1582.6,962.1 L1583.4,964.0 L1584.2,965.8 L1585.0,967.6 L1585.8,969.5 L1586.5,971.3 L1587.3,973.2 L1588.1,975.0 L1588.9,976.8 L1589.7,978.7 L1590.4,980.5 L1591.2,982.3 L1592.0,984.2 L1592.8,986.0 L1593.6,987.9 L1594.3,989.7 L1595.1,991.5 L1595.9,993.4 L1596.7,995.2 L1597.5,997.0 L1598.2,998.9 L1599.0,1000.7 L1599.8,1002.5 L1600.6,1004.4 L1601.3,1006.2 L1602.1,1008.1 L1602.8,1009.9 L1603.6,1011.7 L1604.3,1013.6 L1605.1,1015.4 L1605.8,1017.3 L1606.5,1019.2 L1607.2,1021.0 L1607.9,1022.9 L1608.6,1024.8 L1609.3,1026.6 L1610.0,1028.5 L1610.7,1030.4 L1611.3,1032.3 L1612.0,1034.2 L1612.6,1036.1 L1613.2,1038.0 L1613.8,1039.9 L1614.5,1041.8 L1615.1,1043.7 L1615.7,1045.6 L1616.4,1047.6 L1617.0,1049.5 L1617.6,1051.4 L1618.3,1053.3 L1618.9,1055.1 L1619.6,1057.0 L1620.3,1058.9 L1621.0,1060.8 L1621.8,1062.6 L1622.5,1064.5 L1623.3,1066.3 L1624.1,1068.2 L1625.0,1070.0 L1625.8,1071.8 L1626.7,1073.6 L1627.7,1075.3 L1628.7,1077.1 L1629.7,1078.8 L1630.7,1080.5 L1631.9,1082.2 L1633.0,1083.8 L1634.3,1085.3 L1635.6,1086.6 L1637.0,1087.6 L1638.6,1088.2 L1640.3,1088.5 L1642.2,1088.4 L1644.1,1087.9 L1646.0,1087.1 L1647.7,1086.0 L1649.3,1084.8 L1650.6,1083.4 L1651.9,1081.9 L1653.0,1080.2 L1654.0,1078.5 L1654.9,1076.6 L1655.8,1074.8 L1656.7,1072.9 L1657.6,1071.0 L1658.5,1069.1 L1659.4,1067.3 L1660.4,1065.5 L1661.5,1063.7 L1662.6,1062.0 L1663.7,1060.3 L1664.8,1058.6 L1666.0,1057.0 L1667.3,1055.3 L1668.5,1053.7 L1669.7,1052.1 L1671.0,1050.6 L1672.3,1049.0 L1673.6,1047.5 L1674.9,1045.9 L1676.2,1044.4 L1677.5,1042.9 L1678.8,1041.3 L1680.0,1039.8 L1681.3,1038.2 L1682.5,1036.7 L1683.7,1035.1 L1684.9,1033.6 L1686.1,1032.0 L1687.2,1030.4 L1688.2,1028.7 L1689.3,1027.1 L1690.3,1025.4 L1691.2,1023.7 L1692.1,1022.0 L1693.0,1020.2 L1693.8,1018.5 L1694.6,1016.7 L1695.4,1014.9 L1696.1,1013.1 L1696.8,1011.2 L1697.5,1009.4 L1698.1,1007.5 L1698.7,1005.6 L1699.3,1003.7 L1699.9,1001.8 L1700.4,999.9 L1700.9,997.9 L1701.4,996.0 L1701.8,994.0 L1702.3,992.1 L1702.7,990.1 L1703.1,988.1 L1703.5,986.1 L1703.9,984.1 L1704.3,982.1 L1704.6,980.1 L1704.9,978.1 L1705.3,976.1 L1705.6,974.1 L1705.9,972.1 L1706.2,970.1 L1706.5,968.1 L1706.9,966.1 L1707.2,964.1 L1707.5,962.1 L1707.8,960.1 L1708.1,958.1 L1708.4,956.1 L1708.7,954.1 L1708.9,952.1 L1709.2,950.1 L1709.5,948.2 L1709.8,946.2 L1710.1,944.2 L1710.4,942.2 L1710.6,940.2 L1710.9,938.2 L1711.2,936.3 L1711.5,934.3 L1711.7,932.3 L1712.0,930.3 L1712.3,928.4 L1712.5,926.4 L1712.8,924.4 L1713.1,922.4 L1713.3,920.5 L1713.6,918.5 L1713.8,916.5 L1714.1,914.5 L1714.3,912.6 L1714.6,910.6 L1714.8,908.6 L1715.1,906.6 L1715.3,904.7 L1715.6,902.7 L1715.8,900.7 L1716.1,898.8 L1716.3,896.8 L1716.5,894.8 L1716.8,892.8 L1717.0,890.8 L1717.2,888.9 L1717.5,886.9 L1717.7,884.9 L1717.9,882.9 L1718.2,881.0 L1718.4,879.0 L1718.6,877.0 L1718.8,875.0 L1719.1,873.0 L1719.3,871.0 L1719.5,869.1 L1719.7,867.1 L1720.0,865.1 L1720.2,863.1 L1720.4,861.1 L1720.6,859.1 L1720.8,857.2 L1721.1,855.2 L1721.3,853.2 L1721.5,851.2 L1721.7,849.2 L1722.0,847.2 L1722.2,845.3 L1722.4,843.3 L1722.6,841.3 L1722.8,839.3 L1723.1,837.3 L1723.3,835.3 L1723.5,833.3 L1723.7,831.3 L1724.0,829.4 L1724.2,827.4 L1724.4,825.4 L1724.6,823.4 L1724.9,821.4 L1725.1,819.4 L1725.3,817.4 L1725.6,815.4 L1725.8,813.5 L1726.0,811.5 L1726.3,809.5 L1726.5,807.5 L1726.8,805.5 L1727.0,803.5 L1727.3,801.5 L1727.5,799.5 L1727.7,797.6 L1728.0,795.6 L1728.2,793.6 L1728.5,791.6 L1728.8,789.6 L1729.0,787.6 L1729.3,785.6 L1729.5,783.7 L1729.8,781.7 L1730.1,779.7 L1730.3,777.7 L1730.6,775.7 L1730.9,773.7 L1731.2,771.8 L1731.5,769.8 L1731.7,767.8 L1732.0,765.8 L1732.3,763.8 L1732.6,761.8 L1732.9,759.9 L1733.2,757.9 L1733.5,755.9 L1733.8,753.9 L1734.1,752.0 L1734.4,750.0 L1734.8,748.0 L1735.1,746.0 L1735.4,744.0 L1735.7,742.1 L1736.1,740.1 L1736.4,738.1 L1736.8,736.1 L1737.1,734.2 L1737.5,732.2 L1737.8,730.2 L1738.2,728.3 L1738.5,726.3 L1738.9,724.3 L1739.3,722.4 L1739.7,720.4 L1740.1,718.5 L1740.5,716.5 L1741.0,714.6 L1741.4,712.6 L1741.9,710.7 L1742.4,708.7 L1742.9,706.8 L1743.4,704.9 L1743.9,703.0 L1744.5,701.1 L1745.1,699.2 L1745.7,697.3 L1746.3,695.4 L1747.0,693.5 L1747.7,691.7 L1748.4,689.8 L1749.1,688.0 L1749.9,686.1 L1750.7,684.3 L1751.5,682.5 L1752.4,680.7 L1753.3,678.9 L1754.2,677.1 L1755.2,675.3 L1756.2,673.6 L1757.3,671.8 L1758.4,670.1 L1759.5,668.4 L1760.7,666.7 L1761.9,665.1 L1763.1,663.5 L1764.4,662.0 L1765.8,660.5 L1767.2,659.1 L1768.7,657.7 L1770.2,656.5 L1771.7,655.3 L1773.3,654.3 L1775.0,653.3 L1776.7,652.5 L1778.5,651.8 L1780.3,651.1 L1782.2,650.6 L1784.1,650.1 L1786.0,649.8 L1788.0,649.4 L1790.0,649.2 L1792.0,648.9 L1794.0,648.8 L1796.1,648.6 L1798.1,648.5 L1800.1,648.4 L1802.2,648.3 L1804.2,648.2 L1806.3,648.1 L1808.3,648.0 L1810.3,648.0 L1812.4,647.9 L1814.4,647.8 L1816.4,647.8 L1818.4,647.7 L1820.5,647.7 L1822.5,647.6 L1824.5,647.6 L1826.5,647.6 L1828.5,647.6 L1830.5,647.5 L1832.5,647.5 L1834.6,647.5 L1836.6,647.5 L1838.6,647.5 L1840.6,647.5 L1842.6,647.5 L1844.6,647.6 L1846.6,647.6 L1848.6,647.6 L1850.6,647.6 L1852.6,647.7 L1854.6,647.7 L1856.6,647.7 L1858.5,647.8 L1860.5,647.8 L1862.5,647.9 L1864.5,647.9 L1866.5,648.0 L1868.5,648.0 L1870.5,648.1 L1872.5,648.1 L1874.5,648.2 L1876.5,648.3 L1878.4,648.3 L1880.4,648.4 L1882.4,648.5 L1884.4,648.5 L1886.4,648.6 L1888.4,648.7 L1890.4,648.8 L1892.4,648.8 L1894.3,648.9 L1896.3,649.0 L1898.3,649.1 L1900.3,649.2 L1902.3,649.2 L1904.3,649.3 L1906.3,649.4 L1908.3,649.5 L1910.3,649.6 L1912.3,649.7 L1914.3,649.7 L1916.2,649.8 L1918.2,649.9 L1920.2,650.0 L1922.2,650.1 L1924.2,650.2 L1926.2,650.3 L1928.2,650.4 L1930.2,650.5 L1932.2,650.5 L1934.2,650.6 L1936.2,650.7 L1938.2,650.8 L1940.2,650.9 L1942.2,651.0 L1944.2,651.1 L1946.2,651.2 L1948.2,651.3 L1950.2,651.4 L1952.2,651.5 L1954.2,651.5 L1956.2,651.6 L1958.2,651.7 L1960.2,651.8 L1962.2,651.9 L1964.2,652.0 L1966.2,652.1 L1968.2,652.2 L1970.2,652.3 L1972.2,652.4 L1974.2,652.5 L1976.2,652.6 L1978.3,652.7 L1980.3,652.8 L1982.3,652.9 L1984.3,653.0 L1986.3,653.1 L1988.3,653.2 L1990.3,653.2 L1992.3,653.3 L1994.3,653.4 L1996.3,653.5 L1998.3,653.6 L2000.3,653.7 L2002.3,653.8 L2004.3,653.9 L2006.3,654.0 L2008.3,654.1 L2010.3,654.2 L2012.3,654.3 L2014.3,654.4 L2016.3,654.5 L2018.3,654.6 L2020.3,654.7 L2022.3,654.8 L2024.3,654.9 L2026.3,655.0 L2028.3,655.1 L2030.3,655.1 L2032.3,655.2 L2034.3,655.3 L2036.2,655.4 L2038.2,655.5 L2040.2,655.6 L2042.2,655.7 L2044.2,655.8 L2046.2,655.9 L2048.2,656.0 L2050.2,656.1 L2052.2,656.2 L2054.2,656.3 L2056.2,656.4 L2058.2,656.5 L2060.2,656.6 L2062.2,656.7 L2064.2,656.8 L2066.2,656.9 L2068.2,657.0 L2070.2,657.1 L2072.2,657.2 L2074.2,657.2 L2076.2,657.3 L2078.2,657.4 L2080.2,657.5 L2082.2,657.6 L2084.2,657.7 L2086.2,657.8 L2088.2,657.9 L2090.2,658.0 L2092.1,658.1 L2094.1,658.2 L2096.1,658.3 L2098.1,658.4 L2100.1,658.5 L2102.1,658.6 L2104.1,658.7 L2106.1,658.8 L2108.1,658.9 L2110.1,659.0 L2112.1,659.1 L2114.1,659.2 L2116.1,659.3 L2118.1,659.4 L2120.1,659.5 L2122.1,659.6 L2124.1,659.7 L2126.1,659.8 L2128.1,659.9 L2130.1,660.0 L2132.1,660.0 L2134.1,660.1 L2136.1,660.2 L2138.1,660.3 L2140.1,660.4 L2142.0,660.5 L2144.0,660.6 L2146.0,660.7 L2148.0,660.8 L2150.0,660.9 L2152.0,661.0 L2154.0,661.1 L2156.0,661.2 L2158.0,661.3 L2160.0,661.4 L2162.0,661.5 L2164.0,661.6 L2166.0,661.7 L2168.0,661.8 L2170.0,661.9 L2172.0,662.0 L2174.0,662.1 L2176.0,662.2 L2178.0,662.3 L2180.0,662.4 L2182.0,662.5 L2184.0,662.6 L2186.0,662.7 L2188.0,662.8 L2190.0,662.9 L2192.0,663.0 L2194.0,663.1 L2196.0,663.2 L2198.0,663.3 L2200.0,663.4 L2202.0,663.5 L2204.0,663.6 L2206.0,663.7" fill="none" stroke="#ff0000" stroke-width="5" stroke-linejoin="round" stroke-linecap="butt"/>
<path d="M136.0,634.1 L138.0,634.2 L140.0,634.3 L142.0,634.4 L144.0,634.4 L146.0,634.5 L148.0,634.6 L150.0,634.7 L152.0,634.8 L154.0,634.8 L156.0,634.9 L158.0,635.0 L160.0,635.1 L162.0,635.1 L163.9,635.2 L165.9,635.3 L167.9,635.4 L169.9,635.4 L171.9,635.5 L173.9,635.6 L175.9,635.7 L177.9,635.7 L179.9,635.8 L181.9,635.9 L183.9,636.0 L185.9,636.1 L187.9,636.1 L189.9,636.2 L191.9,636.3 L193.9,636.4 L195.9,636.4 L197.9,636.5 L199.9,636.6 L201.9,636.7 L203.9,636.7 L205.9,636.8 L207.9,636.9 L209.9,637.0 L211.9,637.0 L213.9,637.1 L215.9,637.2 L217.9,637.3 L219.9,637.3 L221.9,637.4 L223.9,637.5 L225.9,637.6 L227.9,637.6 L229.9,637.7 L231.9,637.8 L233.9,637.9 L235.9,638.0 L237.9,638.0 L239.9,638.1 L241.9,638.2 L243.8,638.3 L245.8,638.3 L247.8,638.4 L249.8,638.5 L251.8,638.6 L253.8,638.6 L255.8,638.7 L257.8,638.8 L259.8,638.9 L261.8,639.0 L263.8,639.0 L265.8,639.1 L267.8,639.2 L269.8,639.3 L271.8,639.3 L273.8,639.4 L275.8,639.5 L277.8,639.6 L279.8,639.7 L281.8,639.7 L283.8,639.8 L285.8,639.9 L287.8,640.0 L289.8,640.0 L291.8,640.1 L293.8,640.2 L295.8,640.3 L297.8,640.4 L299.8,640.4 L301.8,640.5 L303.8,640.6 L305.8,640.7 L307.8,640.8 L309.8,640.8 L311.8,640.9 L313.8,641.0 L315.8,641.1 L317.7,641.1 L319.7,641.2 L321.7,641.3 L323.7,641.4 L325.7,641.5 L327.7,641.5 L329.7,641.6 L331.7,641.7 L333.7,641.8 L335.7,641.9 L337.7,642.0 L339.7,642.0 L341.7,642.1 L343.7,642.2 L345.7,642.3 L347.7,642.4 L349.7,642.4 L351.7,642.5 L353.7,642.6 L355.7,642.7 L357.7,642.8 L359.7,642.9 L361.7,642.9 L363.7,643.0 L365.7,643.1 L367.7,643.2 L369.7,643.3 L371.7,643.4 L373.7,643.4 L375.7,643.5 L377.7,643.6 L379.7,643.7 L381.6,643.8 L383.6,643.9 L385.6,643.9 L387.6,644.0 L389.6,644.1 L391.6,644.2 L393.6,644.3 L395.6,644.4 L397.6,644.5 L399.6,644.5 L401.6,644.6 L403.6,644.7 L405.6,644.8 L407.6,644.9 L409.6,645.0 L411.6,645.1 L413.6,645.2 L415.6,645.2 L417.6,645.3 L419.6,645.4 L421.6,645.5 L423.6,645.6 L425.6,645.7 L427.6,645.8 L429.6,645.9 L431.6,646.0 L433.6,646.0 L435.6,646.1 L437.6,646.2 L439.6,646.3 L441.5,646.4 L443.5,646.5 L445.5,646.6 L447.5,646.7 L449.5,646.8 L451.5,646.9 L453.5,647.0 L455.5,647.0 L457.5,647.1 L459.5,647.2 L461.5,647.3 L463.5,647.4 L465.5,647.5 L467.5,647.6 L469.5,647.7 L471.5,647.8 L473.5,647.9 L475.5,648.0 L477.5,648.1 L479.5,648.2 L481.5,648.3 L483.5,648.4 L485.5,648.5 L487.5,648.6 L489.5,648.7 L491.5,648.8 L493.5,648.9 L495.4,648.9 L497.4,649.0 L499.4,649.1 L501.4,649.2 L503.4,649.3 L505.4,649.4 L507.4,649.5 L509.4,649.6 L511.4,649.7 L513.4,649.8 L515.4,649.9 L517.4,650.0 L519.4,650.1 L521.4,650.2 L523.4,650.3 L525.4,650.4 L527.4,650.6 L529.4,650.7 L531.4,650.8 L533.4,650.9 L535.4,651.0 L537.4,651.1 L539.4,651.2 L541.4,651.3 L543.4,651.4 L545.3,651.5 L547.3,651.6 L549.3,651.7 L551.3,651.8 L553.3,651.9 L555.3,652.0 L557.3,652.1 L559.3,652.2 L561.3,652.3 L563.3,652.5 L565.3,652.6 L567.3,652.7 L569.3,652.8 L571.3,652.9 L573.3,653.0 L575.3,653.1 L577.3,653.2 L579.3,653.3 L581.3,653.4 L583.3,653.6 L585.3,653.7 L587.3,653.8 L589.2,653.9 L591.2,654.0 L593.2,654.1 L595.2,654.2 L597.2,654.4 L599.2,654.5 L601.2,654.6 L603.2,654.7 L605.2,654.8 L607.2,654.9 L609.2,655.1 L611.2,655.2 L613.2,655.3 L615.2,655.4 L617.2,655.5 L619.2,655.6 L621.2,655.8 L623.2,655.9 L625.2,656.0 L627.2,656.1 L629.2,656.2 L631.1,656.4 L633.1,656.5 L635.1,656.6 L637.1,656.7 L639.1,656.9 L641.1,657.0 L643.1,657.1 L645.1,657.2 L647.1,657.3 L649.1,657.5 L651.1,657.6 L653.1,657.7 L655.1,657.8 L657.1,658.0 L659.1,658.1 L661.1,658.2 L663.1,658.4 L665.1,658.5 L667.1,658.6 L669.0,658.7 L671.0,658.9 L673.0,659.0 L675.0,659.1 L677.0,659.2 L679.0,659.4 L681.0,659.5 L683.0,659.6 L685.0,659.8 L687.0,659.9 L689.0,660.0 L691.0,660.2 L693.0,660.3 L695.0,660.4 L697.0,660.6 L699.0,660.7 L701.0,660.8 L703.0,661.0 L704.9,661.1 L706.9,661.2 L708.9,661.4 L710.9,661.5 L712.9,661.6 L714.9,661.8 L716.9,661.9 L718.9,662.0 L720.9,662.2 L722.9,662.3 L724.9,662.4 L726.9,662.6 L728.9,662.7 L730.9,662.9 L732.9,663.0 L734.9,663.1 L736.9,663.3 L738.9,663.4 L740.8,663.6 L742.8,663.7 L744.8,663.8 L746.8,664.0 L748.8,664.1 L750.8,664.3 L752.8,664.4 L754.8,664.5 L756.8,664.7 L758.8,664.8 L760.8,665.0 L762.8,665.1 L764.8,665.2 L766.8,665.4 L768.8,665.5 L770.8,665.7 L772.7,665.8 L774.7,666.0 L776.7,666.1 L778.7,666.2 L780.7,666.4 L782.7,666.5 L784.7,666.7 L786.7,666.8 L788.7,667.0 L790.7,667.1 L792.7,667.3 L794.7,667.4 L796.7,667.6 L798.7,667.7 L800.7,667.9 L802.6,668.0 L804.6,668.1 L806.6,668.3 L808.6,668.4 L810.6,668.6 L812.6,668.7 L814.6,668.9 L816.6,669.0 L818.6,669.2 L820.6,669.3 L822.6,669.5 L824.6,669.6 L826.6,669.8 L828.6,669.9 L830.6,670.1 L832.5,670.2 L834.5,670.4 L836.5,670.5 L838.5,670.7 L840.5,670.9 L842.5,671.0 L844.5,671.2 L846.5,671.3 L848.5,671.5 L850.5,671.6 L852.5,671.8 L854.5,671.9 L856.5,672.1 L858.5,672.2 L860.5,672.4 L862.4,672.5 L864.4,672.7 L866.4,672.8 L868.4,673.0 L870.4,673.2 L872.4,673.3 L874.4,673.5 L876.4,673.6 L878.4,673.8 L880.4,673.9 L882.4,674.1 L884.4,674.3 L886.4,674.4 L888.4,674.6 L890.3,674.7 L892.3,674.9 L894.3,675.0 L896.3,675.2 L898.3,675.4 L900.3,675.5 L902.3,675.7 L904.3,675.8 L906.3,676.0 L908.3,676.2 L910.3,676.3 L912.3,676.5 L914.3,676.6 L916.2,676.8 L918.2,676.9 L920.2,677.1 L922.2,677.3 L924.2,677.4 L926.2,677.6 L928.2,677.8 L930.2,677.9 L932.2,678.1 L934.2,678.2 L936.2,678.4 L938.2,678.6 L940.2,678.7 L942.1,678.9 L944.1,679.0 L946.1,679.2 L948.1,679.4 L950.1,679.5 L952.1,679.7 L954.1,679.9 L956.1,680.0 L958.1,680.2 L960.1,680.4 L962.1,680.5 L964.1,680.7 L966.1,680.8 L968.0,681.0 L970.0,681.2 L972.0,681.3 L974.0,681.5 L976.0,681.7 L978.0,681.8 L980.0,682.0 L982.0,682.2 L984.0,682.3 L986.0,682.5 L988.0,682.7 L990.0,682.8 L991.9,683.0 L993.9,683.2 L995.9,683.3 L997.9,683.5 L999.9,683.7 L1001.9,683.8 L1003.9,684.0 L1005.9,684.2 L1007.9,684.3 L1009.9,684.5 L1011.9,684.7 L1013.9,684.8 L1015.8,685.0 L1017.8,685.2 L1019.8,685.3 L1021.8,685.5 L1023.8,685.7 L1025.8,685.8 L1027.8,686.0 L1029.8,686.2 L1031.8,686.3 L1033.8,686.5 L1035.8,686.7 L1037.7,686.8 L1039.7,687.0 L1041.7,687.2 L1043.7,687.3 L1045.7,687.5 L1047.7,687.7 L1049.7,687.9 L1051.7,688.0 L1053.7,688.2 L1055.7,688.4 L1057.7,688.5 L1059.7,688.7 L1061.6,688.9 L1063.6,689.0 L1065.6,689.2 L1067.6,689.4 L1069.6,689.6 L1071.6,689.7 L1073.6,689.9 L1075.6,690.1 L1077.6,690.2 L1079.6,690.4 L1081.6,690.6 L1083.5,690.8 L1085.5,690.9 L1087.5,691.1 L1089.5,691.3 L1091.5,691.5 L1093.5,691.6 L1095.5,691.8 L1097.5,692.0 L1099.5,692.2 L1101.5,692.3 L1103.4,692.5 L1105.4,692.7 L1107.4,692.9 L1109.4,693.0 L1111.4,693.2 L1113.4,693.4 L1115.4,693.6 L1117.4,693.8 L1119.4,693.9 L1121.4,694.1 L1123.4,694.3 L1125.3,694.5 L1127.3,694.7 L1129.3,694.8 L1131.3,695.0 L1133.3,695.2 L1135.3,695.4 L1137.3,695.6 L1139.3,695.7 L1141.3,695.9 L1143.3,696.1 L1145.2,696.3 L1147.2,696.5 L1149.2,696.7 L1151.2,696.8 L1153.2,697.0 L1155.2,697.2 L1157.2,697.4 L1159.2,697.6 L1161.2,697.8 L1163.2,698.0 L1165.1,698.2 L1167.1,698.3 L1169.1,698.5 L1171.1,698.7 L1173.1,698.9 L1175.1,699.1 L1177.1,699.3 L1179.1,699.5 L1181.1,699.7 L1183.1,699.9 L1185.0,700.1 L1187.0,700.2 L1189.0,700.4 L1191.0,700.6 L1193.0,700.8 L1195.0,701.0 L1197.0,701.2 L1199.0,701.4 L1201.0,701.6 L1203.0,701.8 L1204.9,702.0 L1206.9,702.2 L1208.9,702.4 L1210.9,702.6 L1212.9,702.8 L1214.9,703.0 L1216.9,703.2 L1218.9,703.4 L1220.9,703.6 L1222.8,703.8 L1224.8,704.0 L1226.8,704.2 L1228.8,704.4 L1230.8,704.6 L1232.8,704.8 L1234.8,705.0 L1236.8,705.2 L1238.8,705.4 L1240.7,705.6 L1242.7,705.8 L1244.7,706.1 L1246.7,706.3 L1248.7,706.5 L1250.7,706.7 L1252.7,706.9 L1254.7,707.1 L1256.7,707.3 L1258.6,707.5 L1260.6,707.7 L1262.6,707.9 L1264.6,708.1 L1266.6,708.3 L1268.6,708.5 L1270.6,708.7 L1272.6,708.8 L1274.6,709.0 L1276.5,709.2 L1278.5,709.4 L1280.5,709.6 L1282.5,709.8 L1284.5,709.9 L1286.5,710.1 L1288.5,710.3 L1290.5,710.5 L1292.4,710.6 L1294.4,710.8 L1296.4,711.0 L1298.4,711.1 L1300.4,711.3 L1302.4,711.4 L1304.4,711.6 L1306.4,711.7 L1308.4,711.9 L1310.3,712.0 L1312.3,712.2 L1314.3,712.3 L1316.3,712.5 L1318.3,712.6 L1320.3,712.7 L1322.3,712.9 L1324.3,713.0 L1326.3,713.2 L1328.3,713.3 L1330.3,713.5 L1332.3,713.6 L1334.3,713.7 L1336.3,713.9 L1338.3,714.0 L1340.3,714.2 L1342.3,714.3 L1344.3,714.5 L1346.3,714.7 L1348.3,714.8 L1350.3,715.0 L1352.3,715.2 L1354.3,715.4 L1356.3,715.6 L1358.2,715.8 L1360.2,716.0 L1362.2,716.2 L1364.2,716.4 L1366.2,716.7 L1368.2,716.9 L1370.2,717.2 L1372.2,717.5 L1374.1,717.7 L1376.1,718.0 L1378.1,718.3 L1380.1,718.7 L1382.0,719.0 L1384.0,719.4 L1385.9,719.7 L1387.9,720.1 L1389.9,720.5 L1391.8,720.9 L1393.7,721.4 L1395.7,721.8 L1397.6,722.3 L1399.6,722.8 L1401.5,723.3 L1403.4,723.8 L1405.3,724.4 L1407.2,725.0 L1409.1,725.6 L1411.0,726.2 L1412.9,726.8 L1414.8,727.5 L1416.7,728.2 L1418.6,728.9 L1420.5,729.6 L1422.3,730.4 L1424.2,731.2 L1426.0,732.0 L1427.9,732.9 L1429.7,733.8 L1431.5,734.7 L1433.2,735.6 L1435.0,736.6 L1436.7,737.7 L1438.3,738.8 L1439.9,739.9 L1441.5,741.1 L1443.0,742.3 L1444.5,743.6 L1445.9,744.9 L1447.3,746.3 L1448.6,747.8 L1449.8,749.3 L1451.0,750.9 L1452.0,752.5 L1453.0,754.2 L1454.0,755.9 L1454.9,757.7 L1455.7,759.6 L1456.5,761.5 L1457.2,763.4 L1457.9,765.3 L1458.6,767.3 L1459.2,769.2 L1459.8,771.2 L1460.4,773.2 L1461.0,775.1 L1461.6,777.1 L1462.2,779.1 L1462.8,781.0 L1463.3,782.9 L1463.9,784.9 L1464.5,786.8 L1465.0,788.7 L1465.6,790.6 L1466.1,792.5 L1466.7,794.4 L1467.2,796.3 L1467.8,798.2 L1468.3,800.1 L1468.9,802.0 L1469.4,803.9 L1470.0,805.8 L1470.5,807.7 L1471.1,809.6 L1471.6,811.5 L1472.1,813.4 L1472.7,815.3 L1473.2,817.2 L1473.8,819.1 L1474.3,821.0 L1474.9,822.9 L1475.4,824.8 L1476.0,826.7 L1476.5,828.6 L1477.1,830.6 L1477.6,832.5 L1478.2,834.4 L1478.8,836.4 L1479.3,838.3 L1479.9,840.2 L1480.5,842.2 L1481.1,844.1 L1481.6,846.0 L1482.2,848.0 L1482.8,849.9 L1483.4,851.8 L1484.1,853.7 L1484.7,855.6 L1485.3,857.5 L1485.9,859.4 L1486.6,861.3 L1487.2,863.2 L1487.9,865.1 L1488.6,866.9 L1489.3,868.8 L1490.0,870.6 L1490.8,872.5 L1491.6,874.3 L1492.3,876.1 L1493.2,877.9 L1494.0,879.7 L1494.9,881.5 L1495.8,883.2 L1496.8,884.9 L1497.7,886.7 L1498.7,888.4 L1499.8,890.1 L1500.9,891.7 L1502.0,893.4 L1503.2,895.0 L1504.3,896.6 L1505.6,898.2 L1506.8,899.8 L1508.1,901.4 L1509.3,902.9 L1510.6,904.4 L1512.0,906.0 L1513.3,907.5 L1514.6,909.0 L1515.9,910.5 L1517.3,912.0 L1518.6,913.5 L1519.9,915.0 L1521.3,916.5 L1522.5,918.0 L1523.8,919.5 L1525.1,921.1 L1526.3,922.7 L1527.5,924.3 L1528.7,925.9 L1529.8,927.5 L1530.9,929.2 L1531.9,930.9 L1533.0,932.6 L1534.0,934.3 L1534.9,936.1 L1535.9,937.8 L1536.8,939.6 L1537.8,941.4 L1538.7,943.2 L1539.6,945.0 L1540.5,946.8 L1541.4,948.5 L1542.3,950.3 L1543.2,952.1 L1544.1,953.9 L1544.9,955.7 L1545.8,957.5 L1546.7,959.3 L1547.6,961.0 L1548.5,962.8 L1549.4,964.6 L1550.3,966.4 L1551.2,968.2 L1552.1,969.9 L1552.9,971.7 L1553.8,973.5 L1554.7,975.3 L1555.5,977.1 L1556.4,978.8 L1557.3,980.6 L1558.1,982.4 L1559.0,984.2 L1559.8,986.0 L1560.6,987.8 L1561.5,989.7 L1562.3,991.5 L1563.1,993.3 L1563.9,995.1 L1564.7,996.9 L1565.5,998.8 L1566.3,1000.6 L1567.1,1002.5 L1567.8,1004.3 L1568.6,1006.2 L1569.3,1008.1 L1570.1,1009.9 L1570.8,1011.8 L1571.6,1013.7 L1572.3,1015.6 L1573.0,1017.5 L1573.8,1019.3 L1574.5,1021.2 L1575.3,1023.1 L1576.0,1025.0 L1576.8,1026.8 L1577.5,1028.7 L1578.3,1030.5 L1579.0,1032.4 L1579.8,1034.2 L1580.6,1036.1 L1581.4,1037.9 L1582.2,1039.7 L1583.0,1041.5 L1583.8,1043.3 L1584.7,1045.1 L1585.5,1046.9 L1586.3,1048.6 L1587.2,1050.4 L1588.0,1052.2 L1588.9,1053.9 L1589.8,1055.7 L1590.6,1057.4 L1591.5,1059.2 L1592.3,1061.0 L1593.1,1062.8 L1594.0,1064.5 L1594.8,1066.3 L1595.6,1068.1 L1596.4,1070.0 L1597.2,1071.8 L1597.9,1073.6 L1598.7,1075.5 L1599.4,1077.4 L1600.1,1079.3 L1600.8,1081.2 L1601.5,1083.1 L1602.1,1085.1 L1602.8,1087.1 L1603.4,1089.0 L1604.0,1091.0 L1604.6,1093.0 L1605.2,1095.0 L1605.8,1097.0 L1606.4,1099.0 L1607.1,1101.0 L1607.7,1103.0 L1608.4,1104.9 L1609.1,1106.9 L1609.8,1108.8 L1610.5,1110.7 L1611.3,1112.5 L1612.1,1114.4 L1613.0,1116.2 L1613.8,1117.9 L1614.8,1119.7 L1615.8,1121.3 L1616.8,1123.0 L1617.9,1124.6 L1619.1,1126.1 L1620.3,1127.6 L1621.6,1129.0 L1623.0,1130.3 L1624.4,1131.6 L1625.9,1132.8 L1627.5,1134.0 L1629.2,1135.1 L1631.0,1136.0 L1632.8,1136.9 L1634.6,1137.6 L1636.4,1138.1 L1638.2,1138.5 L1640.0,1138.7 L1641.8,1138.7 L1643.5,1138.5 L1645.1,1138.0 L1646.7,1137.2 L1648.2,1136.2 L1649.5,1135.0 L1650.8,1133.6 L1652.1,1132.0 L1653.3,1130.4 L1654.5,1128.6 L1655.7,1126.8 L1656.9,1125.0 L1658.1,1123.2 L1659.4,1121.5 L1660.7,1119.8 L1661.9,1118.1 L1663.2,1116.5 L1664.6,1114.9 L1665.9,1113.4 L1667.2,1111.8 L1668.5,1110.3 L1669.9,1108.8 L1671.2,1107.3 L1672.5,1105.8 L1673.8,1104.3 L1675.1,1102.8 L1676.4,1101.3 L1677.7,1099.8 L1679.0,1098.3 L1680.2,1096.7 L1681.4,1095.2 L1682.6,1093.6 L1683.7,1092.1 L1684.8,1090.5 L1685.9,1088.8 L1686.9,1087.2 L1687.9,1085.5 L1688.9,1083.8 L1689.9,1082.1 L1690.8,1080.4 L1691.7,1078.6 L1692.6,1076.9 L1693.4,1075.1 L1694.2,1073.3 L1695.0,1071.5 L1695.8,1069.7 L1696.6,1067.8 L1697.3,1066.0 L1698.0,1064.1 L1698.7,1062.3 L1699.4,1060.4 L1700.0,1058.5 L1700.6,1056.6 L1701.2,1054.7 L1701.8,1052.8 L1702.4,1050.9 L1703.0,1048.9 L1703.5,1047.0 L1704.0,1045.1 L1704.6,1043.1 L1705.1,1041.2 L1705.5,1039.3 L1706.0,1037.3 L1706.5,1035.4 L1706.9,1033.4 L1707.4,1031.5 L1707.8,1029.5 L1708.2,1027.6 L1708.6,1025.6 L1709.0,1023.7 L1709.4,1021.7 L1709.8,1019.8 L1710.1,1017.8 L1710.5,1015.8 L1710.8,1013.9 L1711.2,1011.9 L1711.5,1009.9 L1711.8,1008.0 L1712.2,1006.0 L1712.5,1004.0 L1712.8,1002.1 L1713.1,1000.1 L1713.4,998.1 L1713.7,996.1 L1714.0,994.2 L1714.2,992.2 L1714.5,990.2 L1714.8,988.2 L1715.1,986.2 L1715.3,984.3 L1715.6,982.3 L1715.9,980.3 L1716.2,978.3 L1716.4,976.3 L1716.7,974.4 L1717.0,972.4 L1717.2,970.4 L1717.5,968.4 L1717.8,966.4 L1718.0,964.5 L1718.3,962.5 L1718.6,960.5 L1718.8,958.5 L1719.1,956.5 L1719.4,954.6 L1719.6,952.6 L1719.9,950.6 L1720.2,948.6 L1720.4,946.6 L1720.7,944.7 L1721.0,942.7 L1721.2,940.7 L1721.5,938.7 L1721.8,936.7 L1722.0,934.7 L1722.3,932.8 L1722.6,930.8 L1722.8,928.8 L1723.1,926.8 L1723.4,924.8 L1723.7,922.9 L1723.9,920.9 L1724.2,918.9 L1724.5,916.9 L1724.7,914.9 L1725.0,913.0 L1725.3,911.0 L1725.6,909.0 L1725.8,907.0 L1726.1,905.1 L1726.4,903.1 L1726.7,901.1 L1727.0,899.1 L1727.2,897.1 L1727.5,895.2 L1727.8,893.2 L1728.1,891.2 L1728.3,889.2 L1728.6,887.2 L1728.9,885.3 L1729.2,883.3 L1729.5,881.3 L1729.8,879.3 L1730.1,877.4 L1730.3,875.4 L1730.6,873.4 L1730.9,871.4 L1731.2,869.5 L1731.5,867.5 L1731.8,865.5 L1732.1,863.5 L1732.4,861.6 L1732.7,859.6 L1733.0,857.6 L1733.3,855.6 L1733.6,853.7 L1733.9,851.7 L1734.2,849.7 L1734.5,847.7 L1734.8,845.8 L1735.1,843.8 L1735.4,841.8 L1735.7,839.8 L1736.0,837.9 L1736.3,835.9 L1736.6,833.9 L1736.9,832.0 L1737.2,830.0 L1737.6,828.0 L1737.9,826.0 L1738.2,824.1 L1738.5,822.1 L1738.8,820.1 L1739.1,818.2 L1739.5,816.2 L1739.8,814.2 L1740.1,812.3 L1740.5,810.3 L1740.8,808.3 L1741.2,806.4 L1741.5,804.4 L1741.9,802.5 L1742.2,800.5 L1742.6,798.5 L1743.0,796.6 L1743.4,794.6 L1743.8,792.7 L1744.2,790.7 L1744.7,788.8 L1745.1,786.8 L1745.5,784.9 L1746.0,782.9 L1746.5,781.0 L1747.0,779.1 L1747.5,777.1 L1748.0,775.2 L1748.5,773.3 L1749.1,771.4 L1749.6,769.4 L1750.2,767.5 L1750.8,765.6 L1751.5,763.7 L1752.1,761.8 L1752.8,759.9 L1753.5,758.0 L1754.2,756.1 L1754.9,754.2 L1755.6,752.3 L1756.4,750.5 L1757.3,748.6 L1758.1,746.8 L1759.0,745.1 L1760.0,743.3 L1761.0,741.6 L1762.0,739.9 L1763.1,738.3 L1764.3,736.7 L1765.5,735.2 L1766.7,733.7 L1768.1,732.3 L1769.5,730.9 L1771.0,729.6 L1772.5,728.4 L1774.1,727.3 L1775.8,726.2 L1777.6,725.2 L1779.4,724.3 L1781.2,723.4 L1783.1,722.6 L1785.0,721.9 L1786.9,721.3 L1788.9,720.7 L1790.8,720.2 L1792.8,719.7 L1794.8,719.3 L1796.7,719.0 L1798.7,718.8 L1800.7,718.5 L1802.7,718.4 L1804.7,718.2 L1806.7,718.2 L1808.7,718.1 L1810.7,718.1 L1812.7,718.1 L1814.7,718.1 L1816.7,718.1 L1818.7,718.2 L1820.7,718.2 L1822.7,718.3 L1824.7,718.3 L1826.7,718.4 L1828.7,718.4 L1830.7,718.5 L1832.7,718.5 L1834.7,718.5 L1836.7,718.5 L1838.7,718.5 L1840.7,718.5 L1842.7,718.5 L1844.7,718.5 L1846.7,718.5 L1848.7,718.5 L1850.6,718.5 L1852.6,718.5 L1854.6,718.5 L1856.6,718.5 L1858.6,718.5 L1860.6,718.5 L1862.6,718.6 L1864.6,718.6 L1866.6,718.6 L1868.6,718.7 L1870.6,718.7 L1872.6,718.7 L1874.6,718.8 L1876.6,718.8 L1878.6,718.9 L1880.6,718.9 L1882.6,719.0 L1884.6,719.1 L1886.6,719.1 L1888.6,719.2 L1890.6,719.2 L1892.6,719.3 L1894.6,719.4 L1896.6,719.4 L1898.6,719.5 L1900.6,719.6 L1902.6,719.6 L1904.6,719.7 L1906.6,719.8 L1908.6,719.9 L1910.6,719.9 L1912.6,720.0 L1914.6,720.1 L1916.6,720.2 L1918.6,720.2 L1920.6,720.3 L1922.6,720.4 L1924.6,720.5 L1926.6,720.6 L1928.6,720.6 L1930.6,720.7 L1932.6,720.8 L1934.6,720.9 L1936.5,721.0 L1938.5,721.1 L1940.5,721.2 L1942.5,721.3 L1944.5,721.3 L1946.5,721.4 L1948.5,721.5 L1950.5,721.6 L1952.5,721.7 L1954.5,721.8 L1956.5,721.9 L1958.5,722.0 L1960.5,722.1 L1962.5,722.2 L1964.5,722.3 L1966.5,722.4 L1968.5,722.5 L1970.5,722.6 L1972.5,722.7 L1974.5,722.8 L1976.5,722.9 L1978.5,723.0 L1980.5,723.1 L1982.5,723.2 L1984.5,723.3 L1986.5,723.4 L1988.5,723.5 L1990.5,723.6 L1992.4,723.7 L1994.4,723.8 L1996.4,723.9 L1998.4,724.0 L2000.4,724.1 L2002.4,724.2 L2004.4,724.3 L2006.4,724.4 L2008.4,724.5 L2010.4,724.6 L2012.4,724.7 L2014.4,724.8 L2016.4,724.9 L2018.4,725.0 L2020.4,725.1 L2022.4,725.2 L2024.4,725.3 L2026.4,725.4 L2028.4,725.5 L2030.4,725.6 L2032.4,725.7 L2034.4,725.8 L2036.4,725.9 L2038.4,726.0 L2040.4,726.1 L2042.3,726.2 L2044.3,726.4 L2046.3,726.5 L2048.3,726.6 L2050.3,726.7 L2052.3,726.8 L2054.3,726.9 L2056.3,727.0 L2058.3,727.1 L2060.3,727.2 L2062.3,727.3 L2064.3,727.4 L2066.3,727.5 L2068.3,727.6 L2070.3,727.7 L2072.3,727.8 L2074.3,728.0 L2076.3,728.1 L2078.3,728.2 L2080.3,728.3 L2082.3,728.4 L2084.3,728.5 L2086.3,728.6 L2088.3,728.7 L2090.2,728.8 L2092.2,728.9 L2094.2,729.0 L2096.2,729.1 L2098.2,729.2 L2100.2,729.4 L2102.2,729.5 L2104.2,729.6 L2106.2,729.7 L2108.2,729.8 L2110.2,729.9 L2112.2,730.0 L2114.2,730.1 L2116.2,730.2 L2118.2,730.3 L2120.2,730.4 L2122.2,730.6 L2124.2,730.7 L2126.2,730.8 L2128.2,730.9 L2130.2,731.0 L2132.2,731.1 L2134.2,731.2 L2136.2,731.3 L2138.1,731.4 L2140.1,731.5 L2142.1,731.7 L2144.1,731.8 L2146.1,731.9 L2148.1,732.0 L2150.1,732.1 L2152.1,732.2 L2154.1,732.3 L2156.1,732.4 L2158.1,732.5 L2160.1,732.7 L2162.1,732.8 L2164.1,732.9 L2166.1,733.0 L2168.1,733.1 L2170.1,733.2 L2172.1,733.3 L2174.1,733.4 L2176.1,733.5 L2178.1,733.7 L2180.1,733.8 L2182.1,733.9 L2184.0,734.0 L2186.0,734.1 L2188.0,734.2 L2190.0,734.3 L2192.0,734.4 L2194.0,734.5 L2196.0,734.7 L2198.0,734.8 L2200.0,734.9 L2202.0,735.0 L2204.0,735.1 L2206.0,735.2" fill="none" stroke="#0000ff" stroke-width="5" stroke-linejoin="round" stroke-linecap="butt"/>
<path d="M135.9,683.5 L137.9,683.6 L139.9,683.6 L141.9,683.7 L143.9,683.8 L145.9,683.9 L147.9,684.0 L149.9,684.0 L151.9,684.1 L153.9,684.2 L155.9,684.3 L157.9,684.4 L159.9,684.4 L161.9,684.5 L163.9,684.6 L165.9,684.7 L167.9,684.8 L169.9,684.8 L171.9,684.9 L173.9,685.0 L175.9,685.1 L177.9,685.2 L179.9,685.3 L181.9,685.4 L183.9,685.5 L185.9,685.5 L187.9,685.6 L189.9,685.7 L191.9,685.8 L193.9,685.9 L195.9,686.0 L197.9,686.1 L199.9,686.2 L201.9,686.3 L203.9,686.4 L205.9,686.5 L207.9,686.6 L209.9,686.7 L211.9,686.7 L213.9,686.8 L215.9,686.9 L217.9,687.0 L219.9,687.1 L221.9,687.2 L223.9,687.3 L225.9,687.4 L227.9,687.5 L229.9,687.6 L231.9,687.7 L233.9,687.8 L235.8,687.9 L237.8,688.0 L239.8,688.1 L241.8,688.2 L243.8,688.3 L245.8,688.5 L247.8,688.6 L249.8,688.7 L251.8,688.8 L253.8,688.9 L255.8,689.0 L257.8,689.1 L259.8,689.2 L261.8,689.3 L263.8,689.4 L265.8,689.5 L267.8,689.6 L269.8,689.7 L271.8,689.9 L273.8,690.0 L275.8,690.1 L277.8,690.2 L279.8,690.3 L281.8,690.4 L283.8,690.5 L285.8,690.7 L287.8,690.8 L289.8,690.9 L291.8,691.0 L293.8,691.1 L295.8,691.2 L297.7,691.3 L299.7,691.5 L301.7,691.6 L303.7,691.7 L305.7,691.8 L307.7,691.9 L309.7,692.1 L311.7,692.2 L313.7,692.3 L315.7,692.4 L317.7,692.6 L319.7,692.7 L321.7,692.8 L323.7,692.9 L325.7,693.0 L327.7,693.2 L329.7,693.3 L331.7,693.4 L333.7,693.5 L335.7,693.7 L337.7,693.8 L339.7,693.9 L341.7,694.1 L343.7,694.2 L345.6,694.3 L347.6,694.4 L349.6,694.6 L351.6,694.7 L353.6,694.8 L355.6,695.0 L357.6,695.1 L359.6,695.2 L361.6,695.4 L363.6,695.5 L365.6,695.6 L367.6,695.8 L369.6,695.9 L371.6,696.0 L373.6,696.2 L375.6,696.3 L377.6,696.4 L379.6,696.6 L381.6,696.7 L383.5,696.9 L385.5,697.0 L387.5,697.1 L389.5,697.3 L391.5,697.4 L393.5,697.5 L395.5,697.7 L397.5,697.8 L399.5,698.0 L401.5,698.1 L403.5,698.3 L405.5,698.4 L407.5,698.5 L409.5,698.7 L411.5,698.8 L413.5,699.0 L415.5,699.1 L417.4,699.3 L419.4,699.4 L421.4,699.5 L423.4,699.7 L425.4,699.8 L427.4,700.0 L429.4,700.1 L431.4,700.3 L433.4,700.4 L435.4,700.6 L437.4,700.7 L439.4,700.9 L441.4,701.0 L443.4,701.2 L445.4,701.3 L447.4,701.5 L449.3,701.6 L451.3,701.8 L453.3,701.9 L455.3,702.1 L457.3,702.2 L459.3,702.4 L461.3,702.5 L463.3,702.7 L465.3,702.9 L467.3,703.0 L469.3,703.2 L471.3,703.3 L473.3,703.5 L475.3,703.6 L477.2,703.8 L479.2,704.0 L481.2,704.1 L483.2,704.3 L485.2,704.4 L487.2,704.6 L489.2,704.7 L491.2,704.9 L493.2,705.1 L495.2,705.2 L497.2,705.4 L499.2,705.6 L501.2,705.7 L503.2,705.9 L505.1,706.0 L507.1,706.2 L509.1,706.4 L511.1,706.5 L513.1,706.7 L515.1,706.9 L517.1,707.0 L519.1,707.2 L521.1,707.4 L523.1,707.5 L525.1,707.7 L527.1,707.9 L529.0,708.0 L531.0,708.2 L533.0,708.4 L535.0,708.5 L537.0,708.7 L539.0,708.9 L541.0,709.0 L543.0,709.2 L545.0,709.4 L547.0,709.5 L549.0,709.7 L551.0,709.9 L553.0,710.1 L554.9,710.2 L556.9,710.4 L558.9,710.6 L560.9,710.7 L562.9,710.9 L564.9,711.1 L566.9,711.3 L568.9,711.4 L570.9,711.6 L572.9,711.8 L574.9,712.0 L576.8,712.1 L578.8,712.3 L580.8,712.5 L582.8,712.7 L584.8,712.9 L586.8,713.0 L588.8,713.2 L590.8,713.4 L592.8,713.6 L594.8,713.7 L596.8,713.9 L598.8,714.1 L600.7,714.3 L602.7,714.5 L604.7,714.6 L606.7,714.8 L608.7,715.0 L610.7,715.2 L612.7,715.4 L614.7,715.5 L616.7,715.7 L618.7,715.9 L620.6,716.1 L622.6,716.3 L624.6,716.5 L626.6,716.6 L628.6,716.8 L630.6,717.0 L632.6,717.2 L634.6,717.4 L636.6,717.6 L638.6,717.8 L640.6,717.9 L642.5,718.1 L644.5,718.3 L646.5,718.5 L648.5,718.7 L650.5,718.9 L652.5,719.1 L654.5,719.3 L656.5,719.4 L658.5,719.6 L660.5,719.8 L662.4,720.0 L664.4,720.2 L666.4,720.4 L668.4,720.6 L670.4,720.8 L672.4,721.0 L674.4,721.2 L676.4,721.4 L678.4,721.5 L680.4,721.7 L682.3,721.9 L684.3,722.1 L686.3,722.3 L688.3,722.5 L690.3,722.7 L692.3,722.9 L694.3,723.1 L696.3,723.3 L698.3,723.5 L700.3,723.7 L702.2,723.9 L704.2,724.1 L706.2,724.3 L708.2,724.5 L710.2,724.7 L712.2,724.9 L714.2,725.1 L716.2,725.3 L718.2,725.5 L720.2,725.6 L722.1,725.8 L724.1,726.0 L726.1,726.2 L728.1,726.4 L730.1,726.6 L732.1,726.8 L734.1,727.0 L736.1,727.2 L738.1,727.4 L740.0,727.6 L742.0,727.8 L744.0,728.0 L746.0,728.2 L748.0,728.5 L750.0,728.7 L752.0,728.9 L754.0,729.1 L756.0,729.3 L757.9,729.5 L759.9,729.7 L761.9,729.9 L763.9,730.1 L765.9,730.3 L767.9,730.5 L769.9,730.7 L771.9,730.9 L773.9,731.1 L775.8,731.3 L777.8,731.5 L779.8,731.7 L781.8,731.9 L783.8,732.1 L785.8,732.3 L787.8,732.5 L789.8,732.8 L791.8,733.0 L793.7,733.2 L795.7,733.4 L797.7,733.6 L799.7,733.8 L801.7,734.0 L803.7,734.2 L805.7,734.4 L807.7,734.6 L809.7,734.8 L811.6,735.0 L813.6,735.3 L815.6,735.5 L817.6,735.7 L819.6,735.9 L821.6,736.1 L823.6,736.3 L825.6,736.5 L827.5,736.7 L829.5,736.9 L831.5,737.2 L833.5,737.4 L835.5,737.6 L837.5,737.8 L839.5,738.0 L841.5,738.2 L843.5,738.4 L845.4,738.6 L847.4,738.9 L849.4,739.1 L851.4,739.3 L853.4,739.5 L855.4,739.7 L857.4,739.9 L859.4,740.1 L861.3,740.4 L863.3,740.6 L865.3,740.8 L867.3,741.0 L869.3,741.2 L871.3,741.4 L873.3,741.7 L875.3,741.9 L877.3,742.1 L879.2,742.3 L881.2,742.5 L883.2,742.7 L885.2,743.0 L887.2,743.2 L889.2,743.4 L891.2,743.6 L893.2,743.8 L895.1,744.0 L897.1,744.3 L899.1,744.5 L901.1,744.7 L903.1,744.9 L905.1,745.1 L907.1,745.4 L909.1,745.6 L911.0,745.8 L913.0,746.0 L915.0,746.2 L917.0,746.5 L919.0,746.7 L921.0,746.9 L923.0,747.1 L925.0,747.3 L926.9,747.6 L928.9,747.8 L930.9,748.0 L932.9,748.2 L934.9,748.5 L936.9,748.7 L938.9,748.9 L940.9,749.1 L942.8,749.3 L944.8,749.6 L946.8,749.8 L948.8,750.0 L950.8,750.2 L952.8,750.5 L954.8,750.7 L956.8,750.9 L958.7,751.1 L960.7,751.4 L962.7,751.6 L964.7,751.8 L966.7,752.0 L968.7,752.3 L970.7,752.5 L972.7,752.7 L974.6,752.9 L976.6,753.2 L978.6,753.4 L980.6,753.6 L982.6,753.8 L984.6,754.1 L986.6,754.3 L988.6,754.5 L990.5,754.7 L992.5,755.0 L994.5,755.2 L996.5,755.4 L998.5,755.6 L1000.5,755.9 L1002.5,756.1 L1004.5,756.3 L1006.4,756.5 L1008.4,756.8 L1010.4,757.0 L1012.4,757.2 L1014.4,757.5 L1016.4,757.7 L1018.4,757.9 L1020.3,758.1 L1022.3,758.4 L1024.3,758.6 L1026.3,758.8 L1028.3,759.1 L1030.3,759.3 L1032.3,759.5 L1034.3,759.7 L1036.2,760.0 L1038.2,760.2 L1040.2,760.4 L1042.2,760.7 L1044.2,760.9 L1046.2,761.1 L1048.2,761.3 L1050.2,761.6 L1052.1,761.8 L1054.1,762.0 L1056.1,762.3 L1058.1,762.5 L1060.1,762.7 L1062.1,763.0 L1064.1,763.2 L1066.0,763.4 L1068.0,763.7 L1070.0,763.9 L1072.0,764.1 L1074.0,764.4 L1076.0,764.6 L1078.0,764.8 L1079.9,765.1 L1081.9,765.3 L1083.9,765.5 L1085.9,765.8 L1087.9,766.0 L1089.9,766.3 L1091.9,766.5 L1093.8,766.7 L1095.8,767.0 L1097.8,767.2 L1099.8,767.5 L1101.8,767.7 L1103.8,767.9 L1105.8,768.2 L1107.7,768.4 L1109.7,768.7 L1111.7,768.9 L1113.7,769.1 L1115.7,769.4 L1117.7,769.6 L1119.7,769.9 L1121.6,770.1 L1123.6,770.4 L1125.6,770.6 L1127.6,770.9 L1129.6,771.1 L1131.6,771.4 L1133.5,771.6 L1135.5,771.9 L1137.5,772.1 L1139.5,772.4 L1141.5,772.6 L1143.5,772.9 L1145.4,773.1 L1147.4,773.4 L1149.4,773.6 L1151.4,773.9 L1153.4,774.1 L1155.3,774.4 L1157.3,774.7 L1159.3,774.9 L1161.3,775.2 L1163.3,775.4 L1165.3,775.7 L1167.2,776.0 L1169.2,776.2 L1171.2,776.5 L1173.2,776.8 L1175.2,777.0 L1177.1,777.3 L1179.1,777.6 L1181.1,777.8 L1183.1,778.1 L1185.1,778.4 L1187.0,778.6 L1189.0,778.9 L1191.0,779.2 L1193.0,779.5 L1194.9,779.7 L1196.9,780.0 L1198.9,780.3 L1200.9,780.6 L1202.9,780.8 L1204.8,781.1 L1206.8,781.4 L1208.8,781.7 L1210.8,782.0 L1212.7,782.2 L1214.7,782.5 L1216.7,782.8 L1218.7,783.1 L1220.6,783.4 L1222.6,783.7 L1224.6,784.0 L1226.6,784.3 L1228.5,784.6 L1230.5,784.9 L1232.5,785.2 L1234.5,785.4 L1236.4,785.7 L1238.4,786.0 L1240.4,786.3 L1242.4,786.6 L1244.3,787.0 L1246.3,787.3 L1248.3,787.6 L1250.2,787.9 L1252.2,788.2 L1254.2,788.5 L1256.2,788.8 L1258.1,789.1 L1260.1,789.4 L1262.1,789.7 L1264.0,790.0 L1266.0,790.4 L1268.0,790.7 L1270.0,791.0 L1271.9,791.3 L1273.9,791.6 L1275.9,792.0 L1277.8,792.3 L1279.8,792.6 L1281.8,792.9 L1283.8,793.3 L1285.7,793.6 L1287.7,793.9 L1289.7,794.2 L1291.6,794.6 L1293.6,794.9 L1295.6,795.2 L1297.6,795.6 L1299.5,795.9 L1301.5,796.2 L1303.5,796.6 L1305.4,796.9 L1307.4,797.2 L1309.4,797.6 L1311.4,797.9 L1313.3,798.3 L1315.3,798.6 L1317.3,798.9 L1319.3,799.3 L1321.2,799.6 L1323.2,800.0 L1325.2,800.3 L1327.2,800.7 L1329.2,801.0 L1331.1,801.4 L1333.1,801.7 L1335.1,802.1 L1337.1,802.4 L1339.1,802.8 L1341.0,803.1 L1343.0,803.5 L1345.0,803.8 L1347.0,804.2 L1349.0,804.5 L1351.0,804.9 L1352.9,805.2 L1354.9,805.6 L1356.9,806.0 L1358.9,806.3 L1360.9,806.7 L1362.8,807.1 L1364.8,807.5 L1366.8,807.9 L1368.8,808.3 L1370.7,808.7 L1372.7,809.1 L1374.7,809.6 L1376.6,810.0 L1378.6,810.5 L1380.5,811.0 L1382.4,811.5 L1384.4,812.0 L1386.3,812.5 L1388.2,813.0 L1390.1,813.6 L1392.0,814.2 L1393.9,814.8 L1395.8,815.4 L1397.7,816.0 L1399.5,816.7 L1401.4,817.3 L1403.2,818.1 L1405.1,818.8 L1406.9,819.5 L1408.7,820.3 L1410.5,821.1 L1412.3,822.0 L1414.1,822.8 L1415.9,823.7 L1417.6,824.6 L1419.3,825.6 L1421.1,826.6 L1422.8,827.6 L1424.4,828.6 L1426.1,829.7 L1427.7,830.8 L1429.4,832.0 L1431.0,833.1 L1432.5,834.3 L1434.1,835.6 L1435.6,836.8 L1437.0,838.1 L1438.5,839.5 L1439.9,840.8 L1441.3,842.2 L1442.6,843.6 L1443.9,845.1 L1445.2,846.6 L1446.4,848.1 L1447.6,849.7 L1448.7,851.2 L1449.8,852.9 L1450.9,854.5 L1451.9,856.2 L1452.9,857.9 L1453.8,859.7 L1454.6,861.5 L1455.5,863.3 L1456.3,865.1 L1457.0,867.0 L1457.7,868.9 L1458.4,870.8 L1459.1,872.7 L1459.7,874.7 L1460.3,876.6 L1460.9,878.6 L1461.5,880.6 L1462.1,882.5 L1462.6,884.5 L1463.2,886.5 L1463.7,888.5 L1464.2,890.4 L1464.8,892.4 L1465.3,894.4 L1465.8,896.3 L1466.4,898.3 L1466.9,900.3 L1467.4,902.2 L1467.9,904.2 L1468.5,906.1 L1469.0,908.1 L1469.5,910.0 L1470.1,911.9 L1470.6,913.9 L1471.2,915.8 L1471.7,917.7 L1472.3,919.6 L1472.8,921.6 L1473.4,923.5 L1474.0,925.4 L1474.6,927.3 L1475.2,929.2 L1475.8,931.0 L1476.4,932.9 L1477.0,934.8 L1477.7,936.7 L1478.3,938.6 L1479.0,940.4 L1479.6,942.3 L1480.3,944.1 L1481.0,946.0 L1481.8,947.8 L1482.5,949.6 L1483.2,951.5 L1484.0,953.3 L1484.8,955.1 L1485.6,956.9 L1486.4,958.7 L1487.2,960.5 L1488.1,962.3 L1489.0,964.1 L1489.9,965.9 L1490.8,967.6 L1491.7,969.4 L1492.7,971.1 L1493.6,972.9 L1494.6,974.6 L1495.6,976.3 L1496.7,978.1 L1497.7,979.8 L1498.8,981.4 L1499.9,983.1 L1501.0,984.8 L1502.1,986.5 L1503.2,988.1 L1504.4,989.7 L1505.6,991.3 L1506.8,993.0 L1508.0,994.5 L1509.2,996.1 L1510.5,997.7 L1511.8,999.2 L1513.1,1000.8 L1514.4,1002.3 L1515.7,1003.8 L1517.0,1005.3 L1518.3,1006.9 L1519.6,1008.4 L1520.9,1009.9 L1522.3,1011.4 L1523.5,1012.9 L1524.8,1014.5 L1526.1,1016.0 L1527.3,1017.6 L1528.5,1019.2 L1529.7,1020.7 L1530.9,1022.4 L1532.0,1024.0 L1533.1,1025.6 L1534.1,1027.3 L1535.2,1029.0 L1536.2,1030.7 L1537.2,1032.4 L1538.1,1034.1 L1539.1,1035.9 L1540.0,1037.6 L1540.9,1039.4 L1541.8,1041.2 L1542.6,1043.0 L1543.5,1044.8 L1544.3,1046.6 L1545.1,1048.4 L1545.9,1050.3 L1546.7,1052.1 L1547.4,1054.0 L1548.2,1055.8 L1549.0,1057.7 L1549.7,1059.5 L1550.4,1061.4 L1551.2,1063.3 L1551.9,1065.2 L1552.6,1067.0 L1553.4,1068.9 L1554.1,1070.8 L1554.8,1072.7 L1555.5,1074.5 L1556.2,1076.4 L1557.0,1078.3 L1557.7,1080.2 L1558.4,1082.0 L1559.2,1083.9 L1559.9,1085.8 L1560.7,1087.6 L1561.4,1089.5 L1562.2,1091.4 L1562.9,1093.2 L1563.7,1095.1 L1564.5,1096.9 L1565.2,1098.8 L1566.0,1100.6 L1566.8,1102.5 L1567.5,1104.3 L1568.3,1106.2 L1569.1,1108.0 L1569.9,1109.8 L1570.6,1111.7 L1571.4,1113.5 L1572.2,1115.4 L1573.0,1117.2 L1573.8,1119.0 L1574.6,1120.9 L1575.4,1122.7 L1576.1,1124.5 L1576.9,1126.4 L1577.7,1128.2 L1578.5,1130.0 L1579.3,1131.9 L1580.1,1133.7 L1580.9,1135.5 L1581.7,1137.3 L1582.5,1139.2 L1583.3,1141.0 L1584.1,1142.8 L1584.9,1144.6 L1585.7,1146.5 L1586.5,1148.3 L1587.3,1150.1 L1588.1,1151.9 L1588.9,1153.8 L1589.7,1155.6 L1590.5,1157.4 L1591.3,1159.2 L1592.1,1161.1 L1592.9,1162.9 L1593.7,1164.7 L1594.5,1166.5 L1595.3,1168.4 L1596.1,1170.2 L1596.9,1172.0 L1597.7,1173.9 L1598.5,1175.7 L1599.3,1177.5 L1600.1,1179.3 L1600.9,1181.2 L1601.7,1183.0 L1602.5,1184.8 L1603.2,1186.7 L1604.0,1188.5 L1604.8,1190.3 L1605.6,1192.2 L1606.4,1194.0 L1607.1,1195.9 L1607.9,1197.7 L1608.7,1199.6 L1609.4,1201.4 L1610.2,1203.2 L1611.0,1205.1 L1611.7,1206.9 L1612.4,1208.8 L1613.2,1210.7 L1613.9,1212.5 L1614.6,1214.4 L1615.3,1216.3 L1616.0,1218.1 L1616.7,1220.0 L1617.3,1221.9 L1618.0,1223.8 L1618.6,1225.7 L1619.2,1227.6 L1619.8,1229.5 L1620.4,1231.4 L1620.9,1233.4 L1621.5,1235.3 L1622.0,1237.2 L1622.6,1239.2 L1623.2,1241.1 L1623.9,1243.0 L1624.6,1244.8 L1625.5,1246.7 L1626.5,1248.4 L1627.7,1250.2 L1629.0,1251.8 L1630.4,1253.4 L1632.0,1254.8 L1633.7,1256.0 L1635.4,1257.0 L1637.1,1257.6 L1638.8,1257.8 L1640.5,1257.5 L1642.0,1256.9 L1643.6,1255.9 L1645.1,1254.7 L1646.6,1253.3 L1648.0,1251.7 L1649.5,1250.2 L1651.1,1248.8 L1652.7,1247.4 L1654.3,1246.2 L1656.0,1245.1 L1657.7,1244.1 L1659.4,1243.2 L1661.1,1242.3 L1662.8,1241.4 L1664.5,1240.5 L1666.2,1239.5 L1667.8,1238.5 L1669.4,1237.4 L1671.0,1236.2 L1672.5,1235.0 L1674.0,1233.7 L1675.4,1232.3 L1676.8,1230.9 L1678.1,1229.4 L1679.4,1227.8 L1680.6,1226.3 L1681.8,1224.7 L1682.9,1223.0 L1684.0,1221.4 L1685.1,1219.7 L1686.1,1218.0 L1687.0,1216.3 L1687.9,1214.5 L1688.8,1212.7 L1689.7,1210.9 L1690.5,1209.1 L1691.2,1207.3 L1692.0,1205.5 L1692.7,1203.6 L1693.3,1201.7 L1694.0,1199.9 L1694.6,1198.0 L1695.2,1196.1 L1695.7,1194.1 L1696.3,1192.2 L1696.8,1190.3 L1697.3,1188.3 L1697.8,1186.4 L1698.3,1184.4 L1698.7,1182.5 L1699.2,1180.5 L1699.6,1178.5 L1700.1,1176.5 L1700.5,1174.6 L1700.9,1172.6 L1701.3,1170.6 L1701.7,1168.7 L1702.1,1166.7 L1702.5,1164.7 L1702.9,1162.7 L1703.3,1160.8 L1703.7,1158.8 L1704.1,1156.8 L1704.5,1154.9 L1704.8,1152.9 L1705.2,1150.9 L1705.5,1148.9 L1705.9,1147.0 L1706.3,1145.0 L1706.6,1143.0 L1706.9,1141.1 L1707.3,1139.1 L1707.6,1137.1 L1707.9,1135.1 L1708.3,1133.2 L1708.6,1131.2 L1708.9,1129.2 L1709.2,1127.3 L1709.5,1125.3 L1709.9,1123.3 L1710.2,1121.3 L1710.5,1119.4 L1710.8,1117.4 L1711.1,1115.4 L1711.4,1113.4 L1711.6,1111.5 L1711.9,1109.5 L1712.2,1107.5 L1712.5,1105.6 L1712.8,1103.6 L1713.1,1101.6 L1713.3,1099.6 L1713.6,1097.7 L1713.9,1095.7 L1714.2,1093.7 L1714.4,1091.7 L1714.7,1089.8 L1715.0,1087.8 L1715.2,1085.8 L1715.5,1083.8 L1715.7,1081.9 L1716.0,1079.9 L1716.3,1077.9 L1716.5,1075.9 L1716.8,1074.0 L1717.0,1072.0 L1717.3,1070.0 L1717.5,1068.0 L1717.8,1066.1 L1718.0,1064.1 L1718.3,1062.1 L1718.5,1060.1 L1718.8,1058.1 L1719.0,1056.2 L1719.3,1054.2 L1719.5,1052.2 L1719.8,1050.2 L1720.0,1048.2 L1720.2,1046.3 L1720.5,1044.3 L1720.7,1042.3 L1721.0,1040.3 L1721.2,1038.3 L1721.5,1036.4 L1721.7,1034.4 L1722.0,1032.4 L1722.2,1030.4 L1722.5,1028.4 L1722.7,1026.5 L1723.0,1024.5 L1723.3,1022.5 L1723.5,1020.5 L1723.8,1018.5 L1724.0,1016.5 L1724.3,1014.6 L1724.5,1012.6 L1724.8,1010.6 L1725.1,1008.6 L1725.3,1006.6 L1725.6,1004.6 L1725.9,1002.6 L1726.1,1000.7 L1726.4,998.7 L1726.7,996.7 L1727.0,994.7 L1727.2,992.7 L1727.5,990.7 L1727.8,988.7 L1728.0,986.8 L1728.3,984.8 L1728.6,982.8 L1728.9,980.8 L1729.2,978.8 L1729.4,976.8 L1729.7,974.8 L1730.0,972.9 L1730.3,970.9 L1730.6,968.9 L1730.8,966.9 L1731.1,964.9 L1731.4,962.9 L1731.7,961.0 L1732.0,959.0 L1732.2,957.0 L1732.5,955.0 L1732.8,953.1 L1733.1,951.1 L1733.4,949.1 L1733.7,947.1 L1733.9,945.2 L1734.2,943.2 L1734.5,941.2 L1734.8,939.2 L1735.1,937.3 L1735.4,935.3 L1735.6,933.3 L1735.9,931.4 L1736.2,929.4 L1736.5,927.4 L1736.8,925.5 L1737.1,923.5 L1737.4,921.5 L1737.7,919.6 L1738.0,917.6 L1738.3,915.7 L1738.7,913.7 L1739.0,911.8 L1739.3,909.8 L1739.7,907.8 L1740.1,905.9 L1740.4,903.9 L1740.8,902.0 L1741.2,900.0 L1741.6,898.1 L1742.0,896.1 L1742.5,894.2 L1742.9,892.2 L1743.4,890.3 L1743.9,888.3 L1744.4,886.4 L1744.9,884.5 L1745.4,882.5 L1746.0,880.6 L1746.5,878.6 L1747.1,876.7 L1747.7,874.8 L1748.4,872.8 L1749.0,870.9 L1749.7,868.9 L1750.4,867.0 L1751.1,865.1 L1751.9,863.2 L1752.6,861.3 L1753.5,859.4 L1754.3,857.6 L1755.2,855.8 L1756.2,854.0 L1757.2,852.3 L1758.2,850.6 L1759.3,849.0 L1760.4,847.4 L1761.6,845.9 L1762.9,844.4 L1764.2,843.1 L1765.6,841.8 L1767.0,840.6 L1768.6,839.4 L1770.2,838.4 L1771.8,837.4 L1773.6,836.6 L1775.4,835.8 L1777.3,835.1 L1779.2,834.5 L1781.2,834.0 L1783.2,833.5 L1785.3,833.1 L1787.3,832.8 L1789.4,832.4 L1791.4,832.1 L1793.4,831.8 L1795.4,831.5 L1797.5,831.2 L1799.4,831.0 L1801.4,830.8 L1803.4,830.6 L1805.4,830.4 L1807.4,830.3 L1809.3,830.1 L1811.3,830.0 L1813.3,829.9 L1815.3,829.8 L1817.2,829.8 L1819.2,829.7 L1821.2,829.7 L1823.2,829.7 L1825.1,829.7 L1827.1,829.8 L1829.1,829.8 L1831.1,829.9 L1833.0,830.0 L1835.0,830.1 L1837.0,830.2 L1839.0,830.3 L1841.0,830.4 L1843.0,830.6 L1845.0,830.7 L1846.9,830.9 L1848.9,831.1 L1850.9,831.3 L1852.9,831.5 L1854.9,831.7 L1856.9,831.9 L1858.9,832.1 L1860.9,832.3 L1862.9,832.6 L1864.9,832.8 L1866.8,833.0 L1868.8,833.3 L1870.8,833.5 L1872.8,833.8 L1874.8,834.0 L1876.8,834.3 L1878.8,834.5 L1880.8,834.7 L1882.8,835.0 L1884.8,835.2 L1886.8,835.5 L1888.8,835.7 L1890.7,835.9 L1892.7,836.2 L1894.7,836.4 L1896.7,836.7 L1898.7,836.9 L1900.7,837.1 L1902.7,837.4 L1904.7,837.6 L1906.7,837.8 L1908.6,838.1 L1910.6,838.3 L1912.6,838.5 L1914.6,838.7 L1916.6,839.0 L1918.6,839.2 L1920.6,839.4 L1922.6,839.6 L1924.5,839.9 L1926.5,840.1 L1928.5,840.3 L1930.5,840.5 L1932.5,840.8 L1934.5,841.0 L1936.5,841.2 L1938.4,841.4 L1940.4,841.7 L1942.4,841.9 L1944.4,842.1 L1946.4,842.3 L1948.4,842.6 L1950.4,842.8 L1952.3,843.0 L1954.3,843.2 L1956.3,843.4 L1958.3,843.7 L1960.3,843.9 L1962.3,844.1 L1964.2,844.3 L1966.2,844.6 L1968.2,844.8 L1970.2,845.0 L1972.2,845.2 L1974.2,845.5 L1976.1,845.7 L1978.1,845.9 L1980.1,846.2 L1982.1,846.4 L1984.1,846.6 L1986.1,846.8 L1988.0,847.1 L1990.0,847.3 L1992.0,847.5 L1994.0,847.8 L1996.0,848.0 L1998.0,848.3 L2000.0,848.5 L2001.9,848.7 L2003.9,849.0 L2005.9,849.2 L2007.9,849.5 L2009.9,849.7 L2011.9,849.9 L2013.8,850.2 L2015.8,850.4 L2017.8,850.7 L2019.8,850.9 L2021.8,851.2 L2023.8,851.4 L2025.7,851.7 L2027.7,851.9 L2029.7,852.2 L2031.7,852.4 L2033.7,852.7 L2035.7,852.9 L2037.6,853.2 L2039.6,853.4 L2041.6,853.7 L2043.6,854.0 L2045.6,854.2 L2047.5,854.5 L2049.5,854.7 L2051.5,855.0 L2053.5,855.2 L2055.5,855.5 L2057.5,855.8 L2059.4,856.0 L2061.4,856.3 L2063.4,856.6 L2065.4,856.8 L2067.4,857.1 L2069.4,857.4 L2071.3,857.6 L2073.3,857.9 L2075.3,858.2 L2077.3,858.4 L2079.3,858.7 L2081.3,859.0 L2083.2,859.2 L2085.2,859.5 L2087.2,859.8 L2089.2,860.0 L2091.2,860.3 L2093.1,860.6 L2095.1,860.9 L2097.1,861.1 L2099.1,861.4 L2101.1,861.7 L2103.1,862.0 L2105.0,862.2 L2107.0,862.5 L2109.0,862.8 L2111.0,863.1 L2113.0,863.3 L2114.9,863.6 L2116.9,863.9 L2118.9,864.2 L2120.9,864.4 L2122.9,864.7 L2124.8,865.0 L2126.8,865.3 L2128.8,865.6 L2130.8,865.8 L2132.8,866.1 L2134.7,866.4 L2136.7,866.7 L2138.7,867.0 L2140.7,867.2 L2142.7,867.5 L2144.7,867.8 L2146.6,868.1 L2148.6,868.4 L2150.6,868.6 L2152.6,868.9 L2154.5,869.2 L2156.5,869.5 L2158.5,869.8 L2160.5,870.1 L2162.5,870.3 L2164.4,870.6 L2166.4,870.9 L2168.4,871.2 L2170.4,871.5 L2172.4,871.7 L2174.3,872.0 L2176.3,872.3 L2178.3,872.6 L2180.3,872.9 L2182.2,873.2 L2184.2,873.4 L2186.2,873.7 L2188.2,874.0 L2190.2,874.3 L2192.1,874.6 L2194.1,874.9 L2196.1,875.1 L2198.1,875.4 L2200.0,875.7 L2202.0,876.0 L2204.0,876.3 L2206.0,876.6" fill="none" stroke="#008080" stroke-width="5" stroke-linejoin="round" stroke-linecap="butt"/>
<path d="M136.0,843.0 L138.0,843.1 L140.0,843.2 L142.0,843.4 L144.0,843.5 L146.0,843.6 L148.0,843.8 L150.0,843.9 L152.0,844.0 L154.0,844.1 L156.0,844.2 L158.0,844.3 L160.0,844.4 L162.0,844.5 L164.0,844.6 L166.0,844.7 L168.0,844.8 L170.0,844.9 L172.0,845.0 L174.0,845.1 L176.0,845.2 L178.0,845.3 L180.0,845.4 L182.0,845.5 L184.0,845.6 L186.0,845.6 L188.0,845.7 L190.0,845.8 L192.0,845.9 L194.0,845.9 L196.0,846.0 L198.0,846.1 L200.0,846.1 L202.0,846.2 L204.0,846.3 L206.0,846.3 L208.0,846.4 L210.0,846.5 L212.0,846.5 L214.0,846.6 L216.0,846.6 L217.9,846.7 L219.9,846.7 L221.9,846.8 L223.9,846.8 L225.9,846.9 L227.9,846.9 L229.9,847.0 L231.9,847.0 L233.9,847.1 L235.9,847.1 L237.9,847.1 L239.9,847.2 L241.9,847.2 L243.9,847.3 L245.9,847.3 L247.9,847.3 L249.9,847.4 L251.9,847.4 L253.9,847.4 L255.9,847.5 L257.9,847.5 L259.9,847.5 L261.9,847.5 L263.9,847.6 L265.9,847.6 L267.9,847.6 L269.9,847.6 L271.9,847.7 L273.9,847.7 L275.9,847.7 L277.9,847.7 L279.9,847.8 L281.9,847.8 L283.9,847.8 L285.9,847.8 L287.9,847.9 L289.9,847.9 L291.9,847.9 L293.9,847.9 L295.9,847.9 L297.9,848.0 L299.9,848.0 L301.9,848.0 L303.9,848.0 L305.9,848.0 L307.9,848.0 L309.9,848.1 L311.9,848.1 L313.9,848.1 L315.9,848.1 L317.9,848.1 L319.9,848.2 L321.9,848.2 L323.9,848.2 L325.9,848.2 L327.9,848.2 L329.9,848.3 L331.9,848.3 L333.9,848.3 L335.9,848.3 L337.9,848.3 L339.9,848.4 L341.9,848.4 L343.9,848.4 L345.9,848.4 L347.9,848.5 L349.9,848.5 L351.9,848.5 L353.9,848.5 L355.9,848.6 L357.9,848.6 L359.9,848.6 L361.9,848.6 L363.9,848.7 L365.9,848.7 L367.9,848.7 L369.9,848.8 L371.9,848.8 L373.9,848.8 L375.9,848.9 L377.9,848.9 L379.9,848.9 L381.9,849.0 L383.9,849.0 L385.9,849.1 L387.9,849.1 L389.9,849.1 L391.9,849.2 L393.9,849.2 L395.9,849.3 L397.9,849.3 L399.9,849.4 L401.9,849.4 L403.9,849.5 L405.9,849.5 L407.9,849.6 L409.9,849.6 L411.9,849.7 L413.9,849.7 L415.9,849.8 L417.9,849.8 L419.9,849.9 L421.9,849.9 L423.9,850.0 L425.9,850.1 L427.9,850.1 L429.9,850.2 L431.9,850.2 L433.9,850.3 L435.9,850.4 L437.9,850.4 L439.9,850.5 L441.9,850.6 L443.9,850.6 L445.9,850.7 L447.9,850.8 L449.9,850.8 L451.9,850.9 L453.9,851.0 L455.9,851.0 L457.9,851.1 L459.9,851.2 L461.9,851.3 L463.9,851.3 L465.9,851.4 L467.9,851.5 L469.9,851.6 L471.9,851.6 L473.9,851.7 L475.9,851.8 L477.9,851.9 L479.9,851.9 L481.9,852.0 L483.9,852.1 L485.9,852.2 L487.9,852.3 L489.9,852.4 L491.9,852.4 L493.9,852.5 L495.9,852.6 L497.8,852.7 L499.8,852.8 L501.8,852.9 L503.8,853.0 L505.8,853.0 L507.8,853.1 L509.8,853.2 L511.8,853.3 L513.8,853.4 L515.8,853.5 L517.8,853.6 L519.8,853.7 L521.8,853.8 L523.8,853.9 L525.8,853.9 L527.8,854.0 L529.8,854.1 L531.8,854.2 L533.8,854.3 L535.8,854.4 L537.8,854.5 L539.8,854.6 L541.8,854.7 L543.8,854.8 L545.8,854.9 L547.8,855.0 L549.8,855.1 L551.8,855.2 L553.8,855.3 L555.8,855.4 L557.8,855.5 L559.8,855.6 L561.8,855.7 L563.8,855.8 L565.8,855.9 L567.8,856.0 L569.8,856.1 L571.8,856.2 L573.8,856.3 L575.8,856.4 L577.8,856.5 L579.8,856.6 L581.8,856.7 L583.7,856.8 L585.7,856.9 L587.7,857.0 L589.7,857.1 L591.7,857.2 L593.7,857.3 L595.7,857.4 L597.7,857.5 L599.7,857.6 L601.7,857.7 L603.7,857.8 L605.7,858.0 L607.7,858.1 L609.7,858.2 L611.7,858.3 L613.7,858.4 L615.7,858.5 L617.7,858.6 L619.7,858.7 L621.7,858.8 L623.7,858.9 L625.7,859.0 L627.7,859.1 L629.7,859.2 L631.7,859.3 L633.7,859.4 L635.7,859.6 L637.7,859.7 L639.7,859.8 L641.7,859.9 L643.7,860.0 L645.7,860.1 L647.7,860.2 L649.7,860.3 L651.6,860.4 L653.6,860.5 L655.6,860.6 L657.6,860.8 L659.6,860.9 L661.6,861.0 L663.6,861.1 L665.6,861.2 L667.6,861.3 L669.6,861.4 L671.6,861.5 L673.6,861.6 L675.6,861.7 L677.6,861.9 L679.6,862.0 L681.6,862.1 L683.6,862.2 L685.6,862.3 L687.6,862.4 L689.6,862.5 L691.6,862.6 L693.6,862.8 L695.6,862.9 L697.6,863.0 L699.6,863.1 L701.6,863.2 L703.6,863.3 L705.6,863.4 L707.6,863.6 L709.6,863.7 L711.5,863.8 L713.5,863.9 L715.5,864.0 L717.5,864.1 L719.5,864.3 L721.5,864.4 L723.5,864.5 L725.5,864.6 L727.5,864.7 L729.5,864.8 L731.5,865.0 L733.5,865.1 L735.5,865.2 L737.5,865.3 L739.5,865.4 L741.5,865.5 L743.5,865.7 L745.5,865.8 L747.5,865.9 L749.5,866.0 L751.5,866.1 L753.5,866.2 L755.5,866.4 L757.5,866.5 L759.5,866.6 L761.5,866.7 L763.5,866.8 L765.4,867.0 L767.4,867.1 L769.4,867.2 L771.4,867.3 L773.4,867.4 L775.4,867.6 L777.4,867.7 L779.4,867.8 L781.4,867.9 L783.4,868.1 L785.4,868.2 L787.4,868.3 L789.4,868.4 L791.4,868.5 L793.4,868.7 L795.4,868.8 L797.4,868.9 L799.4,869.0 L801.4,869.2 L803.4,869.3 L805.4,869.4 L807.4,869.5 L809.4,869.6 L811.4,869.8 L813.4,869.9 L815.4,870.0 L817.3,870.1 L819.3,870.3 L821.3,870.4 L823.3,870.5 L825.3,870.6 L827.3,870.8 L829.3,870.9 L831.3,871.0 L833.3,871.1 L835.3,871.3 L837.3,871.4 L839.3,871.5 L841.3,871.6 L843.3,871.8 L845.3,871.9 L847.3,872.0 L849.3,872.2 L851.3,872.3 L853.3,872.4 L855.3,872.5 L857.3,872.7 L859.3,872.8 L861.3,872.9 L863.3,873.1 L865.2,873.2 L867.2,873.3 L869.2,873.4 L871.2,873.6 L873.2,873.7 L875.2,873.8 L877.2,874.0 L879.2,874.1 L881.2,874.2 L883.2,874.3 L885.2,874.5 L887.2,874.6 L889.2,874.7 L891.2,874.9 L893.2,875.0 L895.2,875.1 L897.2,875.3 L899.2,875.4 L901.2,875.5 L903.2,875.7 L905.2,875.8 L907.2,875.9 L909.2,876.1 L911.2,876.2 L913.1,876.3 L915.1,876.4 L917.1,876.6 L919.1,876.7 L921.1,876.8 L923.1,877.0 L925.1,877.1 L927.1,877.2 L929.1,877.4 L931.1,877.5 L933.1,877.7 L935.1,877.8 L937.1,877.9 L939.1,878.1 L941.1,878.2 L943.1,878.3 L945.1,878.5 L947.1,878.6 L949.1,878.7 L951.1,878.9 L953.1,879.0 L955.1,879.1 L957.1,879.3 L959.0,879.4 L961.0,879.5 L963.0,879.7 L965.0,879.8 L967.0,880.0 L969.0,880.1 L971.0,880.2 L973.0,880.4 L975.0,880.5 L977.0,880.6 L979.0,880.8 L981.0,880.9 L983.0,881.1 L985.0,881.2 L987.0,881.3 L989.0,881.5 L991.0,881.6 L993.0,881.8 L995.0,881.9 L997.0,882.0 L999.0,882.2 L1001.0,882.3 L1003.0,882.5 L1004.9,882.6 L1006.9,882.7 L1008.9,882.9 L1010.9,883.0 L1012.9,883.2 L1014.9,883.3 L1016.9,883.4 L1018.9,883.6 L1020.9,883.7 L1022.9,883.9 L1024.9,884.0 L1026.9,884.1 L1028.9,884.3 L1030.9,884.4 L1032.9,884.6 L1034.9,884.7 L1036.9,884.9 L1038.9,885.0 L1040.9,885.1 L1042.9,885.3 L1044.9,885.4 L1046.9,885.6 L1048.9,885.7 L1050.8,885.9 L1052.8,886.0 L1054.8,886.2 L1056.8,886.3 L1058.8,886.4 L1060.8,886.6 L1062.8,886.7 L1064.8,886.9 L1066.8,887.0 L1068.8,887.2 L1070.8,887.3 L1072.8,887.5 L1074.8,887.6 L1076.8,887.8 L1078.8,887.9 L1080.8,888.1 L1082.8,888.2 L1084.8,888.4 L1086.8,888.5 L1088.8,888.6 L1090.7,888.8 L1092.7,888.9 L1094.7,889.1 L1096.7,889.2 L1098.7,889.4 L1100.7,889.5 L1102.7,889.7 L1104.7,889.9 L1106.7,890.0 L1108.7,890.2 L1110.7,890.3 L1112.7,890.5 L1114.7,890.6 L1116.7,890.8 L1118.7,890.9 L1120.7,891.1 L1122.7,891.2 L1124.7,891.4 L1126.6,891.5 L1128.6,891.7 L1130.6,891.8 L1132.6,892.0 L1134.6,892.2 L1136.6,892.3 L1138.6,892.5 L1140.6,892.6 L1142.6,892.8 L1144.6,892.9 L1146.6,893.1 L1148.6,893.3 L1150.6,893.4 L1152.6,893.6 L1154.5,893.7 L1156.5,893.9 L1158.5,894.1 L1160.5,894.2 L1162.5,894.4 L1164.5,894.5 L1166.5,894.7 L1168.5,894.9 L1170.5,895.0 L1172.5,895.2 L1174.5,895.3 L1176.5,895.5 L1178.5,895.7 L1180.4,895.8 L1182.4,896.0 L1184.4,896.2 L1186.4,896.3 L1188.4,896.5 L1190.4,896.7 L1192.4,896.8 L1194.4,897.0 L1196.4,897.2 L1198.4,897.3 L1200.4,897.5 L1202.3,897.7 L1204.3,897.8 L1206.3,898.0 L1208.3,898.2 L1210.3,898.4 L1212.3,898.5 L1214.3,898.7 L1216.3,898.9 L1218.3,899.0 L1220.3,899.2 L1222.2,899.4 L1224.2,899.6 L1226.2,899.7 L1228.2,899.9 L1230.2,900.1 L1232.2,900.3 L1234.2,900.4 L1236.2,900.6 L1238.2,900.8 L1240.1,901.0 L1242.1,901.1 L1244.1,901.3 L1246.1,901.5 L1248.1,901.7 L1250.1,901.8 L1252.1,902.0 L1254.1,902.2 L1256.1,902.4 L1258.1,902.5 L1260.0,902.7 L1262.0,902.9 L1264.0,903.1 L1266.0,903.2 L1268.0,903.4 L1270.0,903.6 L1272.0,903.8 L1274.0,903.9 L1276.0,904.1 L1278.0,904.3 L1280.0,904.5 L1282.0,904.6 L1284.0,904.8 L1285.9,905.0 L1287.9,905.1 L1289.9,905.3 L1291.9,905.5 L1293.9,905.7 L1295.9,905.8 L1297.9,906.0 L1299.9,906.2 L1301.9,906.3 L1303.9,906.5 L1305.9,906.7 L1307.9,906.8 L1309.9,907.0 L1311.9,907.2 L1313.9,907.3 L1315.9,907.5 L1317.9,907.6 L1319.9,907.8 L1321.9,908.0 L1323.9,908.1 L1325.9,908.3 L1327.9,908.4 L1329.9,908.6 L1331.9,908.7 L1334.0,908.9 L1336.0,909.1 L1338.0,909.2 L1340.0,909.4 L1342.0,909.5 L1344.0,909.7 L1346.0,909.9 L1348.0,910.1 L1350.0,910.2 L1352.0,910.4 L1354.0,910.7 L1356.0,910.9 L1358.0,911.1 L1359.9,911.3 L1361.9,911.6 L1363.9,911.9 L1365.9,912.2 L1367.8,912.5 L1369.8,912.8 L1371.8,913.1 L1373.7,913.5 L1375.7,913.9 L1377.6,914.3 L1379.5,914.7 L1381.5,915.1 L1383.4,915.6 L1385.3,916.1 L1387.2,916.6 L1389.1,917.2 L1391.0,917.8 L1392.9,918.4 L1394.8,919.0 L1396.6,919.7 L1398.5,920.4 L1400.3,921.1 L1402.2,921.9 L1404.0,922.7 L1405.8,923.6 L1407.6,924.4 L1409.4,925.4 L1411.2,926.3 L1412.9,927.3 L1414.7,928.3 L1416.4,929.3 L1418.1,930.4 L1419.8,931.5 L1421.4,932.6 L1423.0,933.8 L1424.7,935.0 L1426.2,936.2 L1427.8,937.5 L1429.3,938.8 L1430.8,940.1 L1432.3,941.5 L1433.7,942.8 L1435.1,944.3 L1436.5,945.7 L1437.8,947.2 L1439.1,948.7 L1440.4,950.2 L1441.6,951.7 L1442.8,953.3 L1443.9,954.9 L1445.0,956.6 L1446.1,958.2 L1447.2,959.9 L1448.2,961.6 L1449.2,963.3 L1450.2,965.1 L1451.1,966.8 L1452.0,968.6 L1452.9,970.4 L1453.8,972.2 L1454.7,974.0 L1455.5,975.8 L1456.3,977.7 L1457.1,979.5 L1457.9,981.4 L1458.6,983.3 L1459.4,985.2 L1460.1,987.1 L1460.8,989.0 L1461.5,990.9 L1462.2,992.8 L1462.9,994.7 L1463.5,996.6 L1464.2,998.5 L1464.8,1000.4 L1465.5,1002.4 L1466.1,1004.3 L1466.8,1006.2 L1467.4,1008.1 L1468.0,1010.0 L1468.7,1012.0 L1469.3,1013.9 L1470.0,1015.8 L1470.6,1017.7 L1471.3,1019.6 L1471.9,1021.5 L1472.6,1023.4 L1473.3,1025.3 L1474.0,1027.2 L1474.7,1029.0 L1475.4,1030.9 L1476.1,1032.8 L1476.9,1034.6 L1477.6,1036.4 L1478.4,1038.3 L1479.2,1040.1 L1480.0,1041.9 L1480.8,1043.7 L1481.7,1045.5 L1482.6,1047.2 L1483.5,1049.0 L1484.4,1050.7 L1485.4,1052.4 L1486.4,1054.1 L1487.4,1055.8 L1488.4,1057.5 L1489.5,1059.2 L1490.6,1060.8 L1491.7,1062.5 L1492.8,1064.1 L1494.0,1065.7 L1495.2,1067.3 L1496.3,1068.9 L1497.5,1070.5 L1498.7,1072.1 L1500.0,1073.7 L1501.2,1075.2 L1502.5,1076.8 L1503.7,1078.4 L1505.0,1079.9 L1506.2,1081.5 L1507.5,1083.0 L1508.8,1084.6 L1510.1,1086.1 L1511.3,1087.7 L1512.6,1089.2 L1513.9,1090.7 L1515.2,1092.3 L1516.4,1093.9 L1517.7,1095.4 L1518.9,1097.0 L1520.2,1098.5 L1521.4,1100.1 L1522.7,1101.7 L1523.9,1103.3 L1525.1,1104.9 L1526.3,1106.5 L1527.4,1108.1 L1528.6,1109.7 L1529.7,1111.3 L1530.8,1113.0 L1531.9,1114.6 L1533.0,1116.3 L1534.0,1118.0 L1535.0,1119.7 L1536.0,1121.4 L1537.0,1123.1 L1538.0,1124.8 L1539.0,1126.6 L1539.9,1128.3 L1540.8,1130.1 L1541.7,1131.8 L1542.6,1133.6 L1543.5,1135.4 L1544.4,1137.2 L1545.2,1139.0 L1546.1,1140.8 L1546.9,1142.6 L1547.7,1144.4 L1548.5,1146.2 L1549.3,1148.0 L1550.1,1149.8 L1550.9,1151.7 L1551.7,1153.5 L1552.5,1155.4 L1553.2,1157.2 L1554.0,1159.0 L1554.7,1160.9 L1555.5,1162.7 L1556.2,1164.6 L1557.0,1166.5 L1557.7,1168.3 L1558.5,1170.2 L1559.2,1172.0 L1560.0,1173.9 L1560.7,1175.7 L1561.5,1177.6 L1562.2,1179.4 L1563.0,1181.3 L1563.7,1183.2 L1564.5,1185.0 L1565.2,1186.9 L1566.0,1188.7 L1566.7,1190.6 L1567.4,1192.4 L1568.2,1194.3 L1568.9,1196.1 L1569.7,1198.0 L1570.4,1199.9 L1571.2,1201.7 L1571.9,1203.6 L1572.6,1205.4 L1573.4,1207.3 L1574.1,1209.1 L1574.8,1211.0 L1575.6,1212.9 L1576.3,1214.7 L1577.1,1216.6 L1577.8,1218.4 L1578.5,1220.3 L1579.3,1222.1 L1580.0,1224.0 L1580.7,1225.9 L1581.5,1227.7 L1582.2,1229.6 L1582.9,1231.4 L1583.7,1233.3 L1584.4,1235.1 L1585.1,1237.0 L1585.9,1238.9 L1586.6,1240.7 L1587.3,1242.6 L1588.0,1244.4 L1588.8,1246.3 L1589.5,1248.1 L1590.2,1250.0 L1591.0,1251.8 L1591.7,1253.7 L1592.4,1255.6 L1593.1,1257.4 L1593.8,1259.3 L1594.6,1261.1 L1595.3,1263.0 L1596.0,1264.8 L1596.7,1266.7 L1597.5,1268.5 L1598.2,1270.4 L1598.9,1272.2 L1599.6,1274.1 L1600.4,1275.9 L1601.1,1277.8 L1601.9,1279.6 L1602.6,1281.5 L1603.4,1283.3 L1604.2,1285.1 L1605.1,1287.0 L1606.0,1288.8 L1606.9,1290.6 L1607.8,1292.4 L1608.8,1294.2 L1609.8,1296.0 L1610.8,1297.9 L1611.9,1299.6 L1613.0,1301.4 L1614.2,1303.2 L1615.5,1304.8 L1616.8,1306.4 L1618.2,1307.9 L1619.6,1309.2 L1621.1,1310.3 L1622.8,1311.3 L1624.5,1312.0 L1626.2,1312.5 L1628.0,1312.8 L1629.9,1312.9 L1631.7,1312.7 L1633.5,1312.3 L1635.3,1311.7 L1637.0,1310.9 L1638.6,1309.8 L1640.2,1308.6 L1641.7,1307.2 L1643.2,1305.7 L1644.6,1304.2 L1646.0,1302.6 L1647.4,1301.0 L1648.8,1299.5 L1650.3,1298.1 L1651.7,1296.7 L1653.2,1295.4 L1654.7,1294.2 L1656.2,1293.1 L1657.8,1292.1 L1659.4,1291.1 L1661.1,1290.3 L1662.8,1289.6 L1664.6,1289.0 L1666.5,1288.5 L1668.5,1288.1 L1670.5,1287.9 L1672.5,1287.7 L1674.6,1287.6 L1676.7,1287.5 L1678.8,1287.4 L1680.8,1287.2 L1682.8,1287.0 L1684.7,1286.6 L1686.6,1286.0 L1688.3,1285.3 L1689.8,1284.4 L1691.3,1283.3 L1692.6,1282.0 L1693.8,1280.6 L1694.9,1279.0 L1696.0,1277.4 L1696.9,1275.6 L1697.8,1273.9 L1698.6,1272.1 L1699.4,1270.3 L1700.1,1268.4 L1700.8,1266.5 L1701.4,1264.6 L1702.0,1262.7 L1702.5,1260.8 L1703.0,1258.8 L1703.5,1256.8 L1704.0,1254.9 L1704.5,1252.9 L1704.9,1250.9 L1705.4,1248.9 L1705.8,1246.9 L1706.2,1245.0 L1706.7,1243.0 L1707.1,1241.0 L1707.5,1239.0 L1707.9,1237.0 L1708.3,1235.0 L1708.7,1233.1 L1709.1,1231.1 L1709.5,1229.1 L1709.9,1227.1 L1710.3,1225.1 L1710.6,1223.2 L1711.0,1221.2 L1711.4,1219.2 L1711.7,1217.2 L1712.1,1215.3 L1712.4,1213.3 L1712.8,1211.3 L1713.1,1209.3 L1713.5,1207.4 L1713.8,1205.4 L1714.1,1203.4 L1714.5,1201.4 L1714.8,1199.4 L1715.1,1197.5 L1715.4,1195.5 L1715.7,1193.5 L1716.0,1191.5 L1716.4,1189.6 L1716.7,1187.6 L1717.0,1185.6 L1717.2,1183.6 L1717.5,1181.7 L1717.8,1179.7 L1718.1,1177.7 L1718.4,1175.7 L1718.7,1173.8 L1719.0,1171.8 L1719.2,1169.8 L1719.5,1167.8 L1719.8,1165.9 L1720.1,1163.9 L1720.3,1161.9 L1720.6,1159.9 L1720.9,1158.0 L1721.1,1156.0 L1721.4,1154.0 L1721.6,1152.0 L1721.9,1150.1 L1722.1,1148.1 L1722.4,1146.1 L1722.6,1144.1 L1722.9,1142.2 L1723.1,1140.2 L1723.4,1138.2 L1723.6,1136.2 L1723.9,1134.3 L1724.1,1132.3 L1724.4,1130.3 L1724.6,1128.3 L1724.9,1126.3 L1725.1,1124.4 L1725.3,1122.4 L1725.6,1120.4 L1725.8,1118.4 L1726.0,1116.5 L1726.3,1114.5 L1726.5,1112.5 L1726.8,1110.5 L1727.0,1108.5 L1727.2,1106.5 L1727.5,1104.6 L1727.7,1102.6 L1728.0,1100.6 L1728.2,1098.6 L1728.4,1096.6 L1728.7,1094.6 L1728.9,1092.7 L1729.2,1090.7 L1729.4,1088.7 L1729.7,1086.7 L1729.9,1084.7 L1730.1,1082.7 L1730.4,1080.7 L1730.6,1078.8 L1730.9,1076.8 L1731.1,1074.8 L1731.4,1072.8 L1731.6,1070.8 L1731.9,1068.8 L1732.2,1066.8 L1732.4,1064.8 L1732.7,1062.9 L1732.9,1060.9 L1733.2,1058.9 L1733.5,1056.9 L1733.7,1054.9 L1734.0,1052.9 L1734.3,1050.9 L1734.6,1049.0 L1734.8,1047.0 L1735.1,1045.0 L1735.4,1043.0 L1735.7,1041.0 L1736.0,1039.0 L1736.3,1037.1 L1736.6,1035.1 L1736.9,1033.1 L1737.2,1031.1 L1737.5,1029.1 L1737.8,1027.2 L1738.1,1025.2 L1738.4,1023.2 L1738.7,1021.2 L1739.0,1019.2 L1739.4,1017.3 L1739.7,1015.3 L1740.0,1013.3 L1740.3,1011.4 L1740.7,1009.4 L1741.0,1007.4 L1741.4,1005.4 L1741.7,1003.5 L1742.1,1001.5 L1742.4,999.5 L1742.8,997.6 L1743.2,995.6 L1743.6,993.6 L1743.9,991.7 L1744.3,989.7 L1744.7,987.8 L1745.1,985.8 L1745.5,983.9 L1745.9,981.9 L1746.4,980.0 L1746.8,978.0 L1747.2,976.1 L1747.7,974.1 L1748.1,972.2 L1748.6,970.2 L1749.0,968.3 L1749.5,966.4 L1750.0,964.4 L1750.5,962.5 L1751.0,960.6 L1751.5,958.6 L1752.0,956.7 L1752.5,954.8 L1753.1,952.9 L1753.7,951.0 L1754.3,949.1 L1754.9,947.2 L1755.5,945.3 L1756.2,943.4 L1756.9,941.5 L1757.6,939.7 L1758.3,937.8 L1759.1,936.0 L1759.9,934.2 L1760.8,932.3 L1761.7,930.5 L1762.6,928.8 L1763.6,927.0 L1764.7,925.2 L1765.7,923.5 L1766.8,921.7 L1768.0,920.0 L1769.2,918.4 L1770.5,916.7 L1771.9,915.2 L1773.3,913.7 L1774.7,912.4 L1776.2,911.1 L1777.8,909.9 L1779.5,908.9 L1781.2,908.0 L1783.0,907.2 L1784.8,906.5 L1786.6,905.9 L1788.5,905.4 L1790.5,904.9 L1792.4,904.5 L1794.4,904.2 L1796.4,903.9 L1798.3,903.5 L1800.3,903.3 L1802.3,903.0 L1804.3,902.7 L1806.3,902.5 L1808.3,902.3 L1810.3,902.0 L1812.2,901.8 L1814.2,901.7 L1816.2,901.5 L1818.2,901.3 L1820.2,901.2 L1822.2,901.0 L1824.2,900.9 L1826.2,900.8 L1828.2,900.7 L1830.2,900.6 L1832.2,900.6 L1834.2,900.5 L1836.2,900.4 L1838.1,900.4 L1840.1,900.4 L1842.1,900.3 L1844.1,900.3 L1846.1,900.3 L1848.1,900.3 L1850.1,900.3 L1852.1,900.3 L1854.1,900.3 L1856.1,900.4 L1858.1,900.4 L1860.1,900.4 L1862.1,900.5 L1864.1,900.5 L1866.1,900.6 L1868.1,900.6 L1870.1,900.7 L1872.2,900.8 L1874.2,900.8 L1876.2,900.9 L1878.2,901.0 L1880.2,901.1 L1882.2,901.1 L1884.2,901.2 L1886.2,901.3 L1888.2,901.4 L1890.2,901.5 L1892.2,901.6 L1894.2,901.6 L1896.2,901.7 L1898.2,901.8 L1900.2,901.9 L1902.2,902.0 L1904.2,902.0 L1906.2,902.1 L1908.2,902.2 L1910.2,902.3 L1912.2,902.3 L1914.2,902.4 L1916.2,902.5 L1918.2,902.5 L1920.2,902.6 L1922.2,902.7 L1924.2,902.7 L1926.2,902.8 L1928.2,902.8 L1930.2,902.9 L1932.2,902.9 L1934.2,903.0 L1936.2,903.0 L1938.2,903.1 L1940.2,903.1 L1942.2,903.2 L1944.2,903.2 L1946.2,903.3 L1948.2,903.3 L1950.2,903.4 L1952.2,903.4 L1954.2,903.5 L1956.2,903.5 L1958.2,903.6 L1960.2,903.6 L1962.2,903.6 L1964.2,903.7 L1966.2,903.7 L1968.2,903.8 L1970.2,903.8 L1972.2,903.9 L1974.2,903.9 L1976.2,904.0 L1978.2,904.0 L1980.1,904.0 L1982.1,904.1 L1984.1,904.1 L1986.1,904.2 L1988.1,904.2 L1990.1,904.3 L1992.1,904.3 L1994.1,904.4 L1996.1,904.4 L1998.1,904.5 L2000.1,904.5 L2002.1,904.6 L2004.1,904.6 L2006.1,904.7 L2008.1,904.8 L2010.1,904.8 L2012.1,904.9 L2014.1,904.9 L2016.1,905.0 L2018.1,905.0 L2020.1,905.1 L2022.1,905.2 L2024.1,905.2 L2026.1,905.3 L2028.1,905.4 L2030.1,905.4 L2032.1,905.5 L2034.1,905.6 L2036.1,905.6 L2038.1,905.7 L2040.1,905.8 L2042.1,905.8 L2044.1,905.9 L2046.1,906.0 L2048.1,906.0 L2050.1,906.1 L2052.1,906.2 L2054.1,906.2 L2056.1,906.3 L2058.1,906.4 L2060.1,906.5 L2062.1,906.5 L2064.1,906.6 L2066.1,906.7 L2068.1,906.8 L2070.1,906.8 L2072.1,906.9 L2074.1,907.0 L2076.1,907.1 L2078.1,907.1 L2080.1,907.2 L2082.1,907.3 L2084.1,907.4 L2086.1,907.5 L2088.1,907.5 L2090.1,907.6 L2092.1,907.7 L2094.1,907.8 L2096.1,907.8 L2098.1,907.9 L2100.1,908.0 L2102.1,908.1 L2104.1,908.2 L2106.1,908.2 L2108.1,908.3 L2110.1,908.4 L2112.1,908.5 L2114.1,908.6 L2116.1,908.6 L2118.1,908.7 L2120.1,908.8 L2122.1,908.9 L2124.1,908.9 L2126.1,909.0 L2128.1,909.1 L2130.1,909.2 L2132.1,909.3 L2134.1,909.3 L2136.1,909.4 L2138.1,909.5 L2140.1,909.6 L2142.1,909.7 L2144.1,909.7 L2146.1,909.8 L2148.1,909.9 L2150.1,910.0 L2152.0,910.0 L2154.0,910.1 L2156.0,910.2 L2158.0,910.3 L2160.0,910.3 L2162.0,910.4 L2164.0,910.5 L2166.0,910.6 L2168.0,910.6 L2170.0,910.7 L2172.0,910.8 L2174.0,910.9 L2176.0,910.9 L2178.0,911.0 L2180.0,911.1 L2182.0,911.1 L2184.0,911.2 L2186.0,911.3 L2188.0,911.3 L2190.0,911.4 L2192.0,911.5 L2194.0,911.5 L2196.0,911.6 L2198.0,911.7 L2200.0,911.7 L2202.0,911.8 L2204.0,911.9 L2206.0,911.9" fill="none" stroke="#ff00ff" stroke-width="5" stroke-linejoin="round" stroke-linecap="butt"/>
<g stroke="#000" stroke-width="5.3" fill="none">
<line x1="1614.9" y1="740.1" x2="1651" y2="740.1" stroke-dasharray="13.8 8.1 13.8 200"/>
<line x1="1617.7" y1="737.5" x2="1617.7" y2="1449" stroke-dasharray="13.2 10.86"/>
<line x1="1661.5" y1="740" x2="1661.5" y2="1452" stroke-dasharray="13.4 10.67"/>
<line x1="1618.2" y1="1456.9" x2="1656" y2="1456.9" stroke-dasharray="13.1 11 13.4 200"/>
</g>
<rect x="135.75" y="44.9" width="2070.5" height="1515.8999999999999" fill="none" stroke="#000" stroke-width="5.5"/>
<line x1="135.75" y1="1560.8" x2="135.75" y2="1528.0" stroke="#000" stroke-width="5"/>
<line x1="342.80" y1="1560.8" x2="342.80" y2="1544.0" stroke="#000" stroke-width="5"/>
<line x1="549.85" y1="1560.8" x2="549.85" y2="1528.0" stroke="#000" stroke-width="5"/>
<line x1="756.90" y1="1560.8" x2="756.90" y2="1544.0" stroke="#000" stroke-width="5"/>
<line x1="963.95" y1="1560.8" x2="963.95" y2="1528.0" stroke="#000" stroke-width="5"/>
<line x1="1171.00" y1="1560.8" x2="1171.00" y2="1544.0" stroke="#000" stroke-width="5"/>
<line x1="1378.05" y1="1560.8" x2="1378.05" y2="1528.0" stroke="#000" stroke-width="5"/>
<line x1="1585.10" y1="1560.8" x2="1585.10" y2="1544.0" stroke="#000" stroke-width="5"/>
<line x1="1792.15" y1="1560.8" x2="1792.15" y2="1528.0" stroke="#000" stroke-width="5"/>
<line x1="1999.20" y1="1560.8" x2="1999.20" y2="1544.0" stroke="#000" stroke-width="5"/>
<line x1="2206.25" y1="1560.8" x2="2206.25" y2="1528.0" stroke="#000" stroke-width="5"/>
<text x="135.8" y="1645.5" text-anchor="middle" font-weight="bold" font-size="69">60</text>
<text x="549.9" y="1645.5" text-anchor="middle" font-weight="bold" font-size="69">90</text>
<text x="964.0" y="1645.5" text-anchor="middle" font-weight="bold" font-size="69">120</text>
<text x="1378.0" y="1645.5" text-anchor="middle" font-weight="bold" font-size="69">150</text>
<text x="1792.2" y="1645.5" text-anchor="middle" font-weight="bold" font-size="69">180</text>
<text x="2206.2" y="1645.5" text-anchor="middle" font-weight="bold" font-size="69">210</text>
<text  font-size="73" y="1740.7"><tspan x="887.1 936.5 970.0 1031.6 1072.5 1106.7 1138.6 1176.0 1202.9 1243.2 1274.9">Temperature</tspan><tspan x="1307.3"> </tspan><tspan x="1325.8">(</tspan><tspan x="1351.8" y="1706.3" font-size="48.6">o</tspan><tspan x="1375.2" y="1741.7" font-size="79">C</tspan><tspan x="1426.8" y="1740.7">)</tspan></text>
<text transform="rotate(-90)"  font-size="75.5" x="-1035.5 -975.0 -941.3 -905.0 -879.9 -857.6 -833.5 -813.1 -774.4 -719.9 -702.3 -673.3 -599.6 -578.9 -542.5" y="85.6">Heat flow (W/g)</text>
<line x1="1713" y1="88.5" x2="1887.5" y2="88.5" stroke="#000000" stroke-width="5.1"/>
<text x="1924.6" y="119.6"  font-size="76">O</text>
<line x1="1713" y1="185.6" x2="1887.5" y2="185.6" stroke="#ff0000" stroke-width="7.4"/>
<text x="1902.4 1941.6" y="216.0"  font-size="76">S1</text>
<line x1="1713" y1="282.05" x2="1887.5" y2="282.05" stroke="#0000ff" stroke-width="5.5"/>
<text x="1902.0 1942.4" y="313.0"  font-size="76">S2</text>
<line x1="1713" y1="380.25" x2="1887.5" y2="380.25" stroke="#008080" stroke-width="5.1"/>
<text x="1902.0 1942.3" y="410.0"  font-size="76">S3</text>
<line x1="1713" y1="477.0" x2="1887.5" y2="477.0" stroke="#ff00ff" stroke-width="8.0"/>
<text x="1902.0 1944.0" y="507.2"  font-size="76">S4</text>
</svg>
</body></html>
